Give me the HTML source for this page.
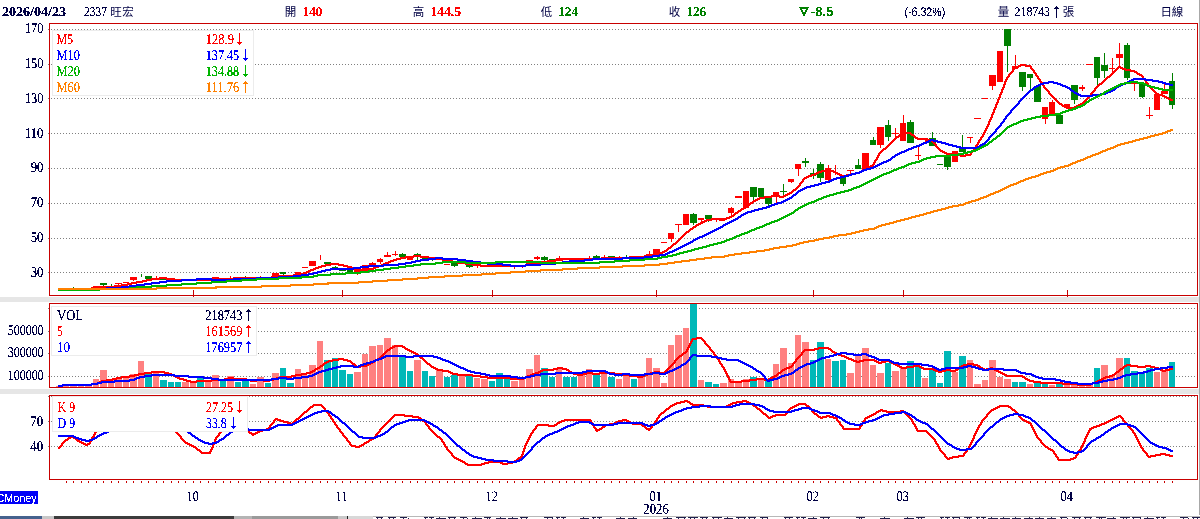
<!DOCTYPE html><html><head><meta charset="utf-8"><style>html,body{margin:0;padding:0;background:#fff;overflow:hidden}body{width:1200px;height:519px;position:relative}</style></head><body><svg width="1200" height="519" viewBox="0 0 1200 519" style="position:absolute;left:0;top:0;font-family:'Liberation Serif',serif">
<defs><filter id="cr" x="0" y="0" width="100%" height="100%" filterUnits="userSpaceOnUse" color-interpolation-filters="sRGB"><feComponentTransfer><feFuncA type="discrete" tableValues="0 0 1 1 1"/></feComponentTransfer></filter><filter id="cw" x="0" y="0" width="100%" height="100%" filterUnits="userSpaceOnUse" color-interpolation-filters="sRGB"><feComponentTransfer><feFuncA type="discrete" tableValues="0 0 1 1"/></feComponentTransfer></filter><filter id="cj" x="0" y="0" width="100%" height="100%" filterUnits="userSpaceOnUse" color-interpolation-filters="sRGB"><feComponentTransfer><feFuncA type="discrete" tableValues="0 1"/></feComponentTransfer></filter></defs>
<rect x="0" y="0" width="1200" height="519" fill="#fff"/>
<rect x="0" y="297" width="1200" height="5" fill="#e6e6e6"/>
<rect x="0" y="389" width="1200" height="5" fill="#e6e6e6"/>
<rect x="1199" y="0" width="1" height="515" fill="#a8a8a8"/>
<line x1="48" x2="1196" y1="29.5" y2="29.5" stroke="#808080" stroke-width="1" stroke-dasharray="1 2" shape-rendering="crispEdges"/>
<line x1="48" x2="1196" y1="64.5" y2="64.5" stroke="#808080" stroke-width="1" stroke-dasharray="1 2" shape-rendering="crispEdges"/>
<line x1="48" x2="1196" y1="98.5" y2="98.5" stroke="#808080" stroke-width="1" stroke-dasharray="1 2" shape-rendering="crispEdges"/>
<line x1="48" x2="1196" y1="133.5" y2="133.5" stroke="#808080" stroke-width="1" stroke-dasharray="1 2" shape-rendering="crispEdges"/>
<line x1="48" x2="1196" y1="168.5" y2="168.5" stroke="#808080" stroke-width="1" stroke-dasharray="1 2" shape-rendering="crispEdges"/>
<line x1="48" x2="1196" y1="203.5" y2="203.5" stroke="#808080" stroke-width="1" stroke-dasharray="1 2" shape-rendering="crispEdges"/>
<line x1="48" x2="1196" y1="238.5" y2="238.5" stroke="#808080" stroke-width="1" stroke-dasharray="1 2" shape-rendering="crispEdges"/>
<line x1="48" x2="1196" y1="272.5" y2="272.5" stroke="#808080" stroke-width="1" stroke-dasharray="1 2" shape-rendering="crispEdges"/>
<line x1="48" x2="1196" y1="308.5" y2="308.5" stroke="#808080" stroke-width="1" stroke-dasharray="1 2" shape-rendering="crispEdges"/>
<line x1="48" x2="1196" y1="331.5" y2="331.5" stroke="#808080" stroke-width="1" stroke-dasharray="1 2" shape-rendering="crispEdges"/>
<line x1="48" x2="1196" y1="353.5" y2="353.5" stroke="#808080" stroke-width="1" stroke-dasharray="1 2" shape-rendering="crispEdges"/>
<line x1="48" x2="1196" y1="376.5" y2="376.5" stroke="#808080" stroke-width="1" stroke-dasharray="1 2" shape-rendering="crispEdges"/>
<line x1="48" x2="1196" y1="396.5" y2="396.5" stroke="#808080" stroke-width="1" stroke-dasharray="1 2" shape-rendering="crispEdges"/>
<line x1="48" x2="1196" y1="421.5" y2="421.5" stroke="#808080" stroke-width="1" stroke-dasharray="1 2" shape-rendering="crispEdges"/>
<line x1="48" x2="1196" y1="446.5" y2="446.5" stroke="#808080" stroke-width="1" stroke-dasharray="1 2" shape-rendering="crispEdges"/>
<g shape-rendering="crispEdges">
<rect x="59.00" y="289.00" width="1.00" height="1.00" fill="#008000"/>
<rect x="66.00" y="288.00" width="1.00" height="1.00" fill="#ff0000"/>
<rect x="63.00" y="288.00" width="6.00" height="1.00" fill="#ff0000"/>
<rect x="73.00" y="287.00" width="1.00" height="2.00" fill="#008000"/>
<rect x="70.00" y="288.00" width="7.00" height="1.00" fill="#008000"/>
<rect x="81.00" y="288.00" width="1.00" height="1.00" fill="#ff0000"/>
<rect x="78.00" y="288.00" width="6.00" height="1.00" fill="#ff0000"/>
<rect x="88.00" y="288.00" width="1.00" height="1.00" fill="#ff0000"/>
<rect x="85.00" y="288.00" width="7.00" height="1.00" fill="#ff0000"/>
<rect x="96.00" y="286.00" width="1.00" height="2.00" fill="#ff0000"/>
<rect x="93.00" y="286.00" width="6.00" height="2.00" fill="#ff0000"/>
<rect x="103.00" y="283.00" width="1.00" height="3.00" fill="#008000"/>
<rect x="100.00" y="283.00" width="7.00" height="2.00" fill="#008000"/>
<rect x="111.00" y="284.00" width="1.00" height="4.00" fill="#008000"/>
<rect x="108.00" y="286.00" width="6.00" height="2.00" fill="#008000"/>
<rect x="118.00" y="283.00" width="1.00" height="2.00" fill="#ff0000"/>
<rect x="115.00" y="283.00" width="7.00" height="1.00" fill="#ff0000"/>
<rect x="123.00" y="282.00" width="6.00" height="1.00" fill="#ff0000"/>
<rect x="133.00" y="277.00" width="1.00" height="4.00" fill="#ff0000"/>
<rect x="130.00" y="277.00" width="7.00" height="3.00" fill="#ff0000"/>
<rect x="141.00" y="274.00" width="1.00" height="3.00" fill="#008000"/>
<rect x="148.00" y="276.00" width="1.00" height="3.00" fill="#008000"/>
<rect x="145.00" y="276.00" width="7.00" height="3.00" fill="#008000"/>
<rect x="156.00" y="276.00" width="1.00" height="3.00" fill="#ff0000"/>
<rect x="153.00" y="278.00" width="6.00" height="1.00" fill="#ff0000"/>
<rect x="163.00" y="278.00" width="1.00" height="2.00" fill="#008000"/>
<rect x="160.00" y="278.00" width="7.00" height="2.00" fill="#008000"/>
<rect x="171.00" y="279.00" width="1.00" height="1.00" fill="#008000"/>
<rect x="168.00" y="279.00" width="6.00" height="1.00" fill="#008000"/>
<rect x="178.00" y="281.00" width="1.00" height="1.00" fill="#008000"/>
<rect x="175.00" y="281.00" width="6.00" height="1.00" fill="#008000"/>
<rect x="185.00" y="280.00" width="1.00" height="1.00" fill="#ff0000"/>
<rect x="182.00" y="280.00" width="7.00" height="1.00" fill="#ff0000"/>
<rect x="193.00" y="279.00" width="1.00" height="2.00" fill="#ff0000"/>
<rect x="190.00" y="279.00" width="6.00" height="2.00" fill="#ff0000"/>
<rect x="200.00" y="278.00" width="1.00" height="2.00" fill="#008000"/>
<rect x="197.00" y="278.00" width="7.00" height="2.00" fill="#008000"/>
<rect x="208.00" y="279.00" width="1.00" height="1.00" fill="#ff0000"/>
<rect x="205.00" y="279.00" width="6.00" height="1.00" fill="#ff0000"/>
<rect x="215.00" y="277.00" width="1.00" height="2.00" fill="#ff0000"/>
<rect x="212.00" y="277.00" width="7.00" height="2.00" fill="#ff0000"/>
<rect x="223.00" y="278.00" width="1.00" height="1.00" fill="#008000"/>
<rect x="220.00" y="278.00" width="6.00" height="1.00" fill="#008000"/>
<rect x="230.00" y="276.00" width="1.00" height="2.00" fill="#ff0000"/>
<rect x="227.00" y="278.00" width="7.00" height="1.00" fill="#ff0000"/>
<rect x="238.00" y="278.00" width="1.00" height="1.00" fill="#ff0000"/>
<rect x="235.00" y="278.00" width="6.00" height="1.00" fill="#ff0000"/>
<rect x="245.00" y="276.00" width="1.00" height="2.00" fill="#008000"/>
<rect x="242.00" y="277.00" width="7.00" height="1.00" fill="#008000"/>
<rect x="253.00" y="277.00" width="1.00" height="1.00" fill="#ff0000"/>
<rect x="250.00" y="277.00" width="6.00" height="1.00" fill="#ff0000"/>
<rect x="260.00" y="276.00" width="1.00" height="2.00" fill="#ff0000"/>
<rect x="257.00" y="277.00" width="7.00" height="1.00" fill="#ff0000"/>
<rect x="268.00" y="277.00" width="1.00" height="1.00" fill="#ff0000"/>
<rect x="265.00" y="277.00" width="6.00" height="1.00" fill="#ff0000"/>
<rect x="275.00" y="273.00" width="1.00" height="4.00" fill="#ff0000"/>
<rect x="272.00" y="273.00" width="7.00" height="4.00" fill="#ff0000"/>
<rect x="283.00" y="272.00" width="1.00" height="4.00" fill="#008000"/>
<rect x="280.00" y="272.00" width="6.00" height="2.00" fill="#008000"/>
<rect x="290.00" y="275.00" width="1.00" height="1.00" fill="#ff0000"/>
<rect x="287.00" y="275.00" width="7.00" height="1.00" fill="#ff0000"/>
<rect x="298.00" y="272.00" width="1.00" height="3.00" fill="#ff0000"/>
<rect x="295.00" y="272.00" width="6.00" height="3.00" fill="#ff0000"/>
<rect x="302.00" y="267.00" width="6.00" height="1.00" fill="#ff0000"/>
<rect x="312.00" y="261.00" width="1.00" height="5.00" fill="#ff0000"/>
<rect x="309.00" y="261.00" width="7.00" height="5.00" fill="#ff0000"/>
<rect x="320.00" y="255.00" width="1.00" height="5.00" fill="#ff0000"/>
<rect x="327.00" y="262.00" width="1.00" height="2.00" fill="#008000"/>
<rect x="324.00" y="262.00" width="7.00" height="2.00" fill="#008000"/>
<rect x="335.00" y="266.00" width="1.00" height="3.00" fill="#008000"/>
<rect x="332.00" y="267.00" width="6.00" height="2.00" fill="#008000"/>
<rect x="342.00" y="268.00" width="1.00" height="3.00" fill="#008000"/>
<rect x="339.00" y="268.00" width="7.00" height="3.00" fill="#008000"/>
<rect x="350.00" y="270.00" width="1.00" height="2.00" fill="#008000"/>
<rect x="347.00" y="270.00" width="6.00" height="2.00" fill="#008000"/>
<rect x="357.00" y="270.00" width="1.00" height="5.00" fill="#ff0000"/>
<rect x="354.00" y="270.00" width="7.00" height="2.00" fill="#ff0000"/>
<rect x="365.00" y="265.00" width="1.00" height="5.00" fill="#ff0000"/>
<rect x="362.00" y="265.00" width="6.00" height="5.00" fill="#ff0000"/>
<rect x="372.00" y="262.00" width="1.00" height="3.00" fill="#ff0000"/>
<rect x="369.00" y="263.00" width="7.00" height="2.00" fill="#ff0000"/>
<rect x="380.00" y="258.00" width="1.00" height="6.00" fill="#ff0000"/>
<rect x="377.00" y="259.00" width="6.00" height="3.00" fill="#ff0000"/>
<rect x="387.00" y="252.00" width="1.00" height="5.00" fill="#ff0000"/>
<rect x="384.00" y="255.00" width="7.00" height="2.00" fill="#ff0000"/>
<rect x="395.00" y="251.00" width="1.00" height="5.00" fill="#ff0000"/>
<rect x="392.00" y="254.00" width="6.00" height="1.00" fill="#ff0000"/>
<rect x="402.00" y="253.00" width="1.00" height="4.00" fill="#008000"/>
<rect x="399.00" y="254.00" width="7.00" height="3.00" fill="#008000"/>
<rect x="410.00" y="258.00" width="1.00" height="2.00" fill="#ff0000"/>
<rect x="407.00" y="258.00" width="6.00" height="2.00" fill="#ff0000"/>
<rect x="417.00" y="253.00" width="1.00" height="7.00" fill="#008000"/>
<rect x="414.00" y="254.00" width="7.00" height="2.00" fill="#008000"/>
<rect x="425.00" y="257.00" width="1.00" height="2.00" fill="#008000"/>
<rect x="422.00" y="257.00" width="6.00" height="2.00" fill="#008000"/>
<rect x="432.00" y="258.00" width="1.00" height="3.00" fill="#008000"/>
<rect x="429.00" y="258.00" width="6.00" height="2.00" fill="#008000"/>
<rect x="439.00" y="258.00" width="1.00" height="2.00" fill="#008000"/>
<rect x="436.00" y="258.00" width="7.00" height="2.00" fill="#008000"/>
<rect x="447.00" y="264.00" width="1.00" height="1.00" fill="#ff0000"/>
<rect x="444.00" y="264.00" width="6.00" height="1.00" fill="#ff0000"/>
<rect x="454.00" y="262.00" width="1.00" height="5.00" fill="#008000"/>
<rect x="451.00" y="262.00" width="7.00" height="4.00" fill="#008000"/>
<rect x="462.00" y="263.00" width="1.00" height="1.00" fill="#ff0000"/>
<rect x="459.00" y="263.00" width="6.00" height="1.00" fill="#ff0000"/>
<rect x="469.00" y="265.00" width="1.00" height="3.00" fill="#008000"/>
<rect x="466.00" y="265.00" width="7.00" height="2.00" fill="#008000"/>
<rect x="477.00" y="265.00" width="1.00" height="3.00" fill="#ff0000"/>
<rect x="474.00" y="265.00" width="6.00" height="1.00" fill="#ff0000"/>
<rect x="484.00" y="265.00" width="1.00" height="1.00" fill="#ff0000"/>
<rect x="481.00" y="265.00" width="7.00" height="1.00" fill="#ff0000"/>
<rect x="492.00" y="265.00" width="1.00" height="1.00" fill="#008000"/>
<rect x="489.00" y="265.00" width="6.00" height="1.00" fill="#008000"/>
<rect x="499.00" y="266.00" width="1.00" height="1.00" fill="#ff0000"/>
<rect x="496.00" y="266.00" width="7.00" height="1.00" fill="#ff0000"/>
<rect x="507.00" y="266.00" width="1.00" height="1.00" fill="#ff0000"/>
<rect x="504.00" y="266.00" width="6.00" height="1.00" fill="#ff0000"/>
<rect x="514.00" y="266.00" width="1.00" height="3.00" fill="#ff0000"/>
<rect x="511.00" y="266.00" width="7.00" height="1.00" fill="#ff0000"/>
<rect x="522.00" y="265.00" width="1.00" height="3.00" fill="#ff0000"/>
<rect x="519.00" y="265.00" width="6.00" height="1.00" fill="#ff0000"/>
<rect x="529.00" y="260.00" width="1.00" height="4.00" fill="#ff0000"/>
<rect x="526.00" y="260.00" width="7.00" height="4.00" fill="#ff0000"/>
<rect x="537.00" y="256.00" width="1.00" height="4.00" fill="#ff0000"/>
<rect x="534.00" y="257.00" width="6.00" height="2.00" fill="#ff0000"/>
<rect x="544.00" y="256.00" width="1.00" height="5.00" fill="#008000"/>
<rect x="541.00" y="257.00" width="7.00" height="3.00" fill="#008000"/>
<rect x="552.00" y="259.00" width="1.00" height="2.00" fill="#008000"/>
<rect x="549.00" y="259.00" width="6.00" height="2.00" fill="#008000"/>
<rect x="559.00" y="256.00" width="1.00" height="4.00" fill="#ff0000"/>
<rect x="556.00" y="258.00" width="6.00" height="2.00" fill="#ff0000"/>
<rect x="566.00" y="258.00" width="1.00" height="2.00" fill="#ff0000"/>
<rect x="563.00" y="258.00" width="7.00" height="2.00" fill="#ff0000"/>
<rect x="574.00" y="259.00" width="1.00" height="2.00" fill="#ff0000"/>
<rect x="571.00" y="259.00" width="6.00" height="2.00" fill="#ff0000"/>
<rect x="581.00" y="259.00" width="1.00" height="1.00" fill="#ff0000"/>
<rect x="578.00" y="259.00" width="7.00" height="1.00" fill="#ff0000"/>
<rect x="589.00" y="256.00" width="1.00" height="4.00" fill="#ff0000"/>
<rect x="586.00" y="258.00" width="6.00" height="2.00" fill="#ff0000"/>
<rect x="596.00" y="255.00" width="1.00" height="3.00" fill="#008000"/>
<rect x="593.00" y="256.00" width="7.00" height="2.00" fill="#008000"/>
<rect x="604.00" y="255.00" width="1.00" height="3.00" fill="#ff0000"/>
<rect x="601.00" y="257.00" width="6.00" height="1.00" fill="#ff0000"/>
<rect x="611.00" y="256.00" width="1.00" height="1.00" fill="#008000"/>
<rect x="608.00" y="256.00" width="7.00" height="1.00" fill="#008000"/>
<rect x="619.00" y="256.00" width="1.00" height="2.00" fill="#ff0000"/>
<rect x="616.00" y="257.00" width="6.00" height="1.00" fill="#ff0000"/>
<rect x="626.00" y="255.00" width="1.00" height="2.00" fill="#008000"/>
<rect x="634.00" y="256.00" width="1.00" height="1.00" fill="#ff0000"/>
<rect x="631.00" y="256.00" width="6.00" height="1.00" fill="#ff0000"/>
<rect x="641.00" y="256.00" width="1.00" height="1.00" fill="#ff0000"/>
<rect x="638.00" y="256.00" width="7.00" height="1.00" fill="#ff0000"/>
<rect x="649.00" y="251.00" width="1.00" height="5.00" fill="#ff0000"/>
<rect x="646.00" y="254.00" width="6.00" height="2.00" fill="#ff0000"/>
<rect x="656.00" y="249.00" width="1.00" height="6.00" fill="#ff0000"/>
<rect x="653.00" y="249.00" width="7.00" height="6.00" fill="#ff0000"/>
<rect x="661.00" y="242.00" width="6.00" height="1.00" fill="#ff0000"/>
<rect x="671.00" y="233.00" width="1.00" height="9.00" fill="#ff0000"/>
<rect x="668.00" y="233.00" width="6.00" height="6.00" fill="#ff0000"/>
<rect x="678.00" y="224.00" width="1.00" height="8.00" fill="#ff0000"/>
<rect x="675.00" y="224.00" width="7.00" height="1.00" fill="#ff0000"/>
<rect x="686.00" y="214.00" width="1.00" height="11.00" fill="#ff0000"/>
<rect x="683.00" y="214.00" width="6.00" height="11.00" fill="#ff0000"/>
<rect x="693.00" y="213.00" width="1.00" height="12.00" fill="#008000"/>
<rect x="690.00" y="214.00" width="7.00" height="9.00" fill="#008000"/>
<rect x="701.00" y="218.00" width="1.00" height="5.00" fill="#ff0000"/>
<rect x="698.00" y="218.00" width="6.00" height="2.00" fill="#ff0000"/>
<rect x="708.00" y="215.00" width="1.00" height="7.00" fill="#008000"/>
<rect x="705.00" y="215.00" width="7.00" height="4.00" fill="#008000"/>
<rect x="716.00" y="219.00" width="1.00" height="3.00" fill="#ff0000"/>
<rect x="713.00" y="219.00" width="6.00" height="1.00" fill="#ff0000"/>
<rect x="723.00" y="218.00" width="1.00" height="2.00" fill="#ff0000"/>
<rect x="720.00" y="218.00" width="7.00" height="2.00" fill="#ff0000"/>
<rect x="731.00" y="207.00" width="1.00" height="8.00" fill="#ff0000"/>
<rect x="728.00" y="208.00" width="6.00" height="5.00" fill="#ff0000"/>
<rect x="738.00" y="196.00" width="1.00" height="2.00" fill="#ff0000"/>
<rect x="735.00" y="196.00" width="7.00" height="2.00" fill="#ff0000"/>
<rect x="746.00" y="191.00" width="1.00" height="17.00" fill="#ff0000"/>
<rect x="743.00" y="191.00" width="6.00" height="17.00" fill="#ff0000"/>
<rect x="753.00" y="187.00" width="1.00" height="15.00" fill="#008000"/>
<rect x="750.00" y="187.00" width="7.00" height="10.00" fill="#008000"/>
<rect x="761.00" y="188.00" width="1.00" height="9.00" fill="#008000"/>
<rect x="758.00" y="188.00" width="6.00" height="9.00" fill="#008000"/>
<rect x="768.00" y="196.00" width="1.00" height="11.00" fill="#008000"/>
<rect x="765.00" y="196.00" width="7.00" height="8.00" fill="#008000"/>
<rect x="776.00" y="192.00" width="1.00" height="11.00" fill="#ff0000"/>
<rect x="773.00" y="192.00" width="6.00" height="5.00" fill="#ff0000"/>
<rect x="783.00" y="184.00" width="1.00" height="14.00" fill="#008000"/>
<rect x="780.00" y="191.00" width="7.00" height="1.00" fill="#008000"/>
<rect x="791.00" y="179.00" width="1.00" height="4.00" fill="#ff0000"/>
<rect x="788.00" y="179.00" width="6.00" height="3.00" fill="#ff0000"/>
<rect x="798.00" y="164.00" width="1.00" height="12.00" fill="#ff0000"/>
<rect x="795.00" y="164.00" width="6.00" height="5.00" fill="#ff0000"/>
<rect x="805.00" y="158.00" width="1.00" height="9.00" fill="#008000"/>
<rect x="802.00" y="161.00" width="7.00" height="2.00" fill="#008000"/>
<rect x="813.00" y="169.00" width="1.00" height="10.00" fill="#008000"/>
<rect x="810.00" y="173.00" width="6.00" height="3.00" fill="#008000"/>
<rect x="820.00" y="162.00" width="1.00" height="20.00" fill="#008000"/>
<rect x="817.00" y="164.00" width="7.00" height="14.00" fill="#008000"/>
<rect x="828.00" y="165.00" width="1.00" height="16.00" fill="#ff0000"/>
<rect x="825.00" y="168.00" width="6.00" height="12.00" fill="#ff0000"/>
<rect x="835.00" y="165.00" width="1.00" height="10.00" fill="#ff0000"/>
<rect x="843.00" y="175.00" width="1.00" height="11.00" fill="#008000"/>
<rect x="840.00" y="175.00" width="6.00" height="9.00" fill="#008000"/>
<rect x="850.00" y="170.00" width="1.00" height="6.00" fill="#ff0000"/>
<rect x="847.00" y="170.00" width="7.00" height="1.00" fill="#ff0000"/>
<rect x="858.00" y="159.00" width="1.00" height="10.00" fill="#008000"/>
<rect x="855.00" y="165.00" width="6.00" height="4.00" fill="#008000"/>
<rect x="865.00" y="153.00" width="1.00" height="17.00" fill="#ff0000"/>
<rect x="862.00" y="153.00" width="7.00" height="17.00" fill="#ff0000"/>
<rect x="873.00" y="137.00" width="1.00" height="8.00" fill="#008000"/>
<rect x="870.00" y="140.00" width="6.00" height="5.00" fill="#008000"/>
<rect x="880.00" y="127.00" width="1.00" height="21.00" fill="#ff0000"/>
<rect x="877.00" y="127.00" width="7.00" height="18.00" fill="#ff0000"/>
<rect x="888.00" y="120.00" width="1.00" height="21.00" fill="#008000"/>
<rect x="885.00" y="125.00" width="6.00" height="12.00" fill="#008000"/>
<rect x="895.00" y="128.00" width="1.00" height="10.00" fill="#ff0000"/>
<rect x="892.00" y="133.00" width="7.00" height="1.00" fill="#ff0000"/>
<rect x="903.00" y="115.00" width="1.00" height="26.00" fill="#ff0000"/>
<rect x="900.00" y="123.00" width="6.00" height="18.00" fill="#ff0000"/>
<rect x="910.00" y="120.00" width="1.00" height="23.00" fill="#008000"/>
<rect x="907.00" y="122.00" width="7.00" height="21.00" fill="#008000"/>
<rect x="918.00" y="147.00" width="1.00" height="13.00" fill="#ff0000"/>
<rect x="915.00" y="155.00" width="6.00" height="1.00" fill="#ff0000"/>
<rect x="925.00" y="138.00" width="1.00" height="4.00" fill="#ff0000"/>
<rect x="922.00" y="138.00" width="6.00" height="1.00" fill="#ff0000"/>
<rect x="932.00" y="132.00" width="1.00" height="14.00" fill="#008000"/>
<rect x="929.00" y="138.00" width="7.00" height="8.00" fill="#008000"/>
<rect x="937.00" y="164.00" width="6.00" height="1.00" fill="#008000"/>
<rect x="947.00" y="155.00" width="1.00" height="15.00" fill="#008000"/>
<rect x="944.00" y="155.00" width="7.00" height="12.00" fill="#008000"/>
<rect x="955.00" y="151.00" width="1.00" height="11.00" fill="#ff0000"/>
<rect x="952.00" y="151.00" width="6.00" height="11.00" fill="#ff0000"/>
<rect x="962.00" y="135.00" width="1.00" height="17.00" fill="#008000"/>
<rect x="959.00" y="148.00" width="7.00" height="4.00" fill="#008000"/>
<rect x="970.00" y="137.00" width="1.00" height="6.00" fill="#ff0000"/>
<rect x="967.00" y="137.00" width="6.00" height="1.00" fill="#ff0000"/>
<rect x="974.00" y="118.00" width="7.00" height="1.00" fill="#ff0000"/>
<rect x="982.00" y="98.00" width="6.00" height="1.00" fill="#ff0000"/>
<rect x="992.00" y="75.00" width="1.00" height="15.00" fill="#ff0000"/>
<rect x="989.00" y="75.00" width="7.00" height="11.00" fill="#ff0000"/>
<rect x="1000.00" y="51.00" width="1.00" height="31.00" fill="#ff0000"/>
<rect x="997.00" y="51.00" width="6.00" height="31.00" fill="#ff0000"/>
<rect x="1007.00" y="29.00" width="1.00" height="43.00" fill="#008000"/>
<rect x="1004.00" y="29.00" width="7.00" height="17.00" fill="#008000"/>
<rect x="1015.00" y="55.00" width="1.00" height="14.00" fill="#ff0000"/>
<rect x="1012.00" y="66.00" width="6.00" height="3.00" fill="#ff0000"/>
<rect x="1022.00" y="72.00" width="1.00" height="19.00" fill="#008000"/>
<rect x="1019.00" y="72.00" width="7.00" height="15.00" fill="#008000"/>
<rect x="1030.00" y="74.00" width="1.00" height="16.00" fill="#008000"/>
<rect x="1027.00" y="74.00" width="6.00" height="4.00" fill="#008000"/>
<rect x="1037.00" y="86.00" width="1.00" height="16.00" fill="#008000"/>
<rect x="1034.00" y="86.00" width="7.00" height="16.00" fill="#008000"/>
<rect x="1045.00" y="107.00" width="1.00" height="17.00" fill="#ff0000"/>
<rect x="1042.00" y="107.00" width="6.00" height="12.00" fill="#ff0000"/>
<rect x="1052.00" y="100.00" width="1.00" height="15.00" fill="#ff0000"/>
<rect x="1049.00" y="102.00" width="6.00" height="13.00" fill="#ff0000"/>
<rect x="1059.00" y="115.00" width="1.00" height="9.00" fill="#008000"/>
<rect x="1056.00" y="115.00" width="7.00" height="9.00" fill="#008000"/>
<rect x="1067.00" y="104.00" width="1.00" height="3.00" fill="#ff0000"/>
<rect x="1064.00" y="104.00" width="6.00" height="3.00" fill="#ff0000"/>
<rect x="1074.00" y="85.00" width="1.00" height="19.00" fill="#008000"/>
<rect x="1071.00" y="85.00" width="7.00" height="15.00" fill="#008000"/>
<rect x="1082.00" y="85.00" width="1.00" height="6.00" fill="#ff0000"/>
<rect x="1079.00" y="87.00" width="6.00" height="2.00" fill="#ff0000"/>
<rect x="1086.00" y="64.00" width="7.00" height="1.00" fill="#ff0000"/>
<rect x="1097.00" y="57.00" width="1.00" height="29.00" fill="#008000"/>
<rect x="1094.00" y="57.00" width="6.00" height="21.00" fill="#008000"/>
<rect x="1104.00" y="53.00" width="1.00" height="25.00" fill="#008000"/>
<rect x="1101.00" y="65.00" width="7.00" height="6.00" fill="#008000"/>
<rect x="1112.00" y="58.00" width="1.00" height="14.00" fill="#ff0000"/>
<rect x="1109.00" y="68.00" width="6.00" height="1.00" fill="#ff0000"/>
<rect x="1119.00" y="43.00" width="1.00" height="25.00" fill="#ff0000"/>
<rect x="1116.00" y="54.00" width="7.00" height="4.00" fill="#ff0000"/>
<rect x="1127.00" y="43.00" width="1.00" height="37.00" fill="#008000"/>
<rect x="1124.00" y="45.00" width="6.00" height="33.00" fill="#008000"/>
<rect x="1134.00" y="83.00" width="1.00" height="8.00" fill="#ff0000"/>
<rect x="1131.00" y="83.00" width="7.00" height="1.00" fill="#ff0000"/>
<rect x="1142.00" y="83.00" width="1.00" height="15.00" fill="#008000"/>
<rect x="1139.00" y="83.00" width="6.00" height="14.00" fill="#008000"/>
<rect x="1149.00" y="107.00" width="1.00" height="12.00" fill="#ff0000"/>
<rect x="1146.00" y="115.00" width="7.00" height="1.00" fill="#ff0000"/>
<rect x="1157.00" y="94.00" width="1.00" height="16.00" fill="#ff0000"/>
<rect x="1154.00" y="94.00" width="6.00" height="16.00" fill="#ff0000"/>
<rect x="1164.00" y="83.00" width="1.00" height="11.00" fill="#ff0000"/>
<rect x="1161.00" y="91.00" width="7.00" height="3.00" fill="#ff0000"/>
<rect x="1172.00" y="73.00" width="1.00" height="36.00" fill="#008000"/>
<rect x="1169.00" y="81.00" width="6.00" height="24.00" fill="#008000"/>
</g>
<path d="M1020 64h6v1h-6zM1018 65h13v1h-13zM1016 66h5v1h-5zM1025 66h7v1h-7zM1118 66h3v1h-3zM1014 67h5v1h-5zM1030 67h2v1h-2zM1117 67h6v1h-6zM1013 68h4v1h-4zM1030 68h3v1h-3zM1116 68h3v1h-3zM1120 68h6v1h-6zM1012 69h3v1h-3zM1031 69h3v1h-3zM1115 69h3v1h-3zM1122 69h9v1h-9zM1012 70h2v1h-2zM1032 70h3v1h-3zM1114 70h3v1h-3zM1125 70h10v1h-10zM1011 71h3v1h-3zM1033 71h2v1h-2zM1113 71h3v1h-3zM1130 71h7v1h-7zM1010 72h3v1h-3zM1033 72h3v1h-3zM1112 72h3v1h-3zM1134 72h4v1h-4zM1009 73h3v1h-3zM1034 73h3v1h-3zM1111 73h3v1h-3zM1136 73h4v1h-4zM1008 74h3v1h-3zM1035 74h2v1h-2zM1110 74h3v1h-3zM1137 74h5v1h-5zM1008 75h2v1h-2zM1035 75h3v1h-3zM1109 75h3v1h-3zM1139 75h4v1h-4zM1007 76h3v1h-3zM1036 76h3v1h-3zM1107 76h4v1h-4zM1141 76h3v1h-3zM1006 77h3v1h-3zM1037 77h2v1h-2zM1106 77h4v1h-4zM1142 77h2v1h-2zM1006 78h2v1h-2zM1037 78h3v1h-3zM1105 78h3v1h-3zM1142 78h3v1h-3zM1005 79h3v1h-3zM1038 79h3v1h-3zM1104 79h3v1h-3zM1143 79h3v1h-3zM1005 80h2v1h-2zM1039 80h2v1h-2zM1103 80h3v1h-3zM1144 80h3v1h-3zM1004 81h3v1h-3zM1039 81h3v1h-3zM1102 81h3v1h-3zM1145 81h2v1h-2zM1004 82h2v1h-2zM1040 82h3v1h-3zM1101 82h3v1h-3zM1145 82h3v1h-3zM1004 83h2v1h-2zM1041 83h2v1h-2zM1099 83h4v1h-4zM1146 83h3v1h-3zM1003 84h3v1h-3zM1041 84h3v1h-3zM1098 84h4v1h-4zM1147 84h2v1h-2zM1003 85h2v1h-2zM1042 85h3v1h-3zM1097 85h3v1h-3zM1147 85h3v1h-3zM1003 86h2v1h-2zM1043 86h2v1h-2zM1096 86h3v1h-3zM1148 86h3v1h-3zM1002 87h3v1h-3zM1043 87h3v1h-3zM1095 87h3v1h-3zM1149 87h3v1h-3zM1002 88h2v1h-2zM1044 88h3v1h-3zM1094 88h3v1h-3zM1150 88h3v1h-3zM1001 89h3v1h-3zM1045 89h3v1h-3zM1094 89h2v1h-2zM1151 89h3v1h-3zM1001 90h2v1h-2zM1046 90h3v1h-3zM1093 90h3v1h-3zM1152 90h3v1h-3zM1001 91h2v1h-2zM1047 91h3v1h-3zM1092 91h3v1h-3zM1153 91h3v1h-3zM1000 92h3v1h-3zM1048 92h2v1h-2zM1091 92h3v1h-3zM1154 92h3v1h-3zM1000 93h2v1h-2zM1048 93h3v1h-3zM1090 93h3v1h-3zM1155 93h4v1h-4zM999 94h3v1h-3zM1049 94h3v1h-3zM1090 94h2v1h-2zM1156 94h7v1h-7zM999 95h2v1h-2zM1050 95h3v1h-3zM1089 95h3v1h-3zM1158 95h7v1h-7zM999 96h2v1h-2zM1051 96h3v1h-3zM1088 96h3v1h-3zM1162 96h5v1h-5zM998 97h3v1h-3zM1052 97h3v1h-3zM1087 97h3v1h-3zM1164 97h5v1h-5zM998 98h2v1h-2zM1053 98h3v1h-3zM1086 98h3v1h-3zM1166 98h5v1h-5zM997 99h3v1h-3zM1054 99h3v1h-3zM1085 99h3v1h-3zM1168 99h5v1h-5zM997 100h2v1h-2zM1055 100h3v1h-3zM1084 100h3v1h-3zM1170 100h3v1h-3zM997 101h2v1h-2zM1056 101h3v1h-3zM1083 101h3v1h-3zM996 102h3v1h-3zM1057 102h3v1h-3zM1082 102h3v1h-3zM996 103h2v1h-2zM1058 103h4v1h-4zM1080 103h4v1h-4zM995 104h3v1h-3zM1059 104h4v1h-4zM1078 104h5v1h-5zM995 105h2v1h-2zM1061 105h4v1h-4zM1076 105h5v1h-5zM995 106h2v1h-2zM1062 106h5v1h-5zM1074 106h5v1h-5zM994 107h3v1h-3zM1064 107h13v1h-13zM994 108h2v1h-2zM1066 108h9v1h-9zM993 109h3v1h-3zM993 110h2v1h-2zM993 111h2v1h-2zM992 112h3v1h-3zM992 113h2v1h-2zM991 114h3v1h-3zM991 115h2v1h-2zM991 116h2v1h-2zM990 117h3v1h-3zM990 118h2v1h-2zM989 119h3v1h-3zM989 120h2v1h-2zM988 121h3v1h-3zM988 122h2v1h-2zM988 123h2v1h-2zM987 124h3v1h-3zM987 125h2v1h-2zM986 126h3v1h-3zM986 127h2v1h-2zM985 128h3v1h-3zM985 129h2v1h-2zM984 130h3v1h-3zM984 131h2v1h-2zM902 132h9v1h-9zM983 132h3v1h-3zM900 133h12v1h-12zM983 133h2v1h-2zM899 134h4v1h-4zM910 134h4v1h-4zM982 134h3v1h-3zM898 135h3v1h-3zM911 135h4v1h-4zM982 135h2v1h-2zM896 136h4v1h-4zM913 136h3v1h-3zM981 136h3v1h-3zM895 137h4v1h-4zM914 137h4v1h-4zM980 137h3v1h-3zM894 138h3v1h-3zM915 138h12v1h-12zM980 138h2v1h-2zM893 139h3v1h-3zM917 139h14v1h-14zM979 139h3v1h-3zM892 140h3v1h-3zM926 140h7v1h-7zM978 140h3v1h-3zM891 141h3v1h-3zM930 141h4v1h-4zM978 141h2v1h-2zM890 142h3v1h-3zM932 142h3v1h-3zM977 142h3v1h-3zM889 143h3v1h-3zM933 143h3v1h-3zM977 143h2v1h-2zM888 144h3v1h-3zM934 144h3v1h-3zM976 144h3v1h-3zM887 145h3v1h-3zM935 145h2v1h-2zM975 145h3v1h-3zM886 146h3v1h-3zM935 146h3v1h-3zM975 146h2v1h-2zM885 147h3v1h-3zM936 147h3v1h-3zM974 147h3v1h-3zM883 148h4v1h-4zM937 148h3v1h-3zM973 148h3v1h-3zM882 149h4v1h-4zM938 149h3v1h-3zM973 149h2v1h-2zM881 150h3v1h-3zM939 150h4v1h-4zM972 150h3v1h-3zM880 151h3v1h-3zM940 151h5v1h-5zM971 151h3v1h-3zM879 152h3v1h-3zM942 152h5v1h-5zM970 152h3v1h-3zM878 153h3v1h-3zM944 153h13v1h-13zM970 153h2v1h-2zM878 154h2v1h-2zM946 154h15v1h-15zM965 154h7v1h-7zM877 155h3v1h-3zM956 155h15v1h-15zM877 156h2v1h-2zM960 156h6v1h-6zM876 157h3v1h-3zM876 158h2v1h-2zM875 159h3v1h-3zM874 160h3v1h-3zM874 161h2v1h-2zM873 162h3v1h-3zM873 163h2v1h-2zM872 164h3v1h-3zM870 165h4v1h-4zM868 166h5v1h-5zM867 167h4v1h-4zM865 168h4v1h-4zM825 169h5v1h-5zM863 169h5v1h-5zM821 170h13v1h-13zM861 170h5v1h-5zM818 171h8v1h-8zM829 171h7v1h-7zM859 171h5v1h-5zM816 172h6v1h-6zM833 172h5v1h-5zM855 172h7v1h-7zM814 173h5v1h-5zM835 173h5v1h-5zM851 173h9v1h-9zM811 174h6v1h-6zM837 174h5v1h-5zM846 174h10v1h-10zM808 175h7v1h-7zM839 175h13v1h-13zM806 176h6v1h-6zM841 176h6v1h-6zM804 177h5v1h-5zM803 178h4v1h-4zM802 179h3v1h-3zM802 180h2v1h-2zM801 181h3v1h-3zM800 182h3v1h-3zM799 183h3v1h-3zM799 184h2v1h-2zM798 185h3v1h-3zM797 186h3v1h-3zM796 187h3v1h-3zM795 188h3v1h-3zM793 189h4v1h-4zM792 190h4v1h-4zM791 191h3v1h-3zM789 192h4v1h-4zM787 193h5v1h-5zM785 194h5v1h-5zM771 195h9v1h-9zM783 195h5v1h-5zM764 196h22v1h-22zM759 197h13v1h-13zM779 197h5v1h-5zM757 198h8v1h-8zM755 199h5v1h-5zM753 200h5v1h-5zM752 201h4v1h-4zM750 202h4v1h-4zM749 203h4v1h-4zM748 204h3v1h-3zM746 205h4v1h-4zM745 206h4v1h-4zM743 207h4v1h-4zM741 208h5v1h-5zM740 209h4v1h-4zM738 210h4v1h-4zM737 211h4v1h-4zM735 212h4v1h-4zM734 213h4v1h-4zM733 214h3v1h-3zM731 215h4v1h-4zM729 216h5v1h-5zM726 217h6v1h-6zM711 218h9v1h-9zM724 218h6v1h-6zM706 219h21v1h-21zM704 220h8v1h-8zM719 220h6v1h-6zM702 221h5v1h-5zM700 222h5v1h-5zM698 223h5v1h-5zM696 224h5v1h-5zM695 225h4v1h-4zM693 226h4v1h-4zM692 227h4v1h-4zM690 228h4v1h-4zM689 229h4v1h-4zM688 230h3v1h-3zM686 231h4v1h-4zM685 232h4v1h-4zM684 233h3v1h-3zM683 234h3v1h-3zM682 235h3v1h-3zM681 236h3v1h-3zM680 237h3v1h-3zM679 238h3v1h-3zM678 239h3v1h-3zM677 240h3v1h-3zM676 241h3v1h-3zM675 242h3v1h-3zM673 243h4v1h-4zM672 244h4v1h-4zM671 245h3v1h-3zM670 246h3v1h-3zM668 247h4v1h-4zM667 248h4v1h-4zM666 249h3v1h-3zM664 250h4v1h-4zM662 251h5v1h-5zM659 252h6v1h-6zM657 253h6v1h-6zM652 254h8v1h-8zM413 255h8v1h-8zM644 255h14v1h-14zM405 256h24v1h-24zM629 256h24v1h-24zM400 257h14v1h-14zM420 257h16v1h-16zM607 257h38v1h-38zM396 258h10v1h-10zM428 258h15v1h-15zM562 258h68v1h-68zM393 259h8v1h-8zM435 259h14v1h-14zM555 259h53v1h-53zM390 260h7v1h-7zM442 260h11v1h-11zM547 260h16v1h-16zM388 261h6v1h-6zM448 261h10v1h-10zM540 261h16v1h-16zM385 262h6v1h-6zM452 262h14v1h-14zM534 262h14v1h-14zM330 263h9v1h-9zM383 263h6v1h-6zM457 263h16v1h-16zM530 263h11v1h-11zM325 264h19v1h-19zM381 264h5v1h-5zM465 264h16v1h-16zM525 264h10v1h-10zM321 265h10v1h-10zM338 265h10v1h-10zM378 265h6v1h-6zM472 265h59v1h-59zM318 266h8v1h-8zM343 266h9v1h-9zM375 266h7v1h-7zM480 266h46v1h-46zM315 267h7v1h-7zM347 267h7v1h-7zM373 267h6v1h-6zM313 268h6v1h-6zM351 268h5v1h-5zM368 268h8v1h-8zM310 269h6v1h-6zM353 269h21v1h-21zM308 270h6v1h-6zM355 270h14v1h-14zM306 271h5v1h-5zM303 272h6v1h-6zM299 273h8v1h-8zM293 274h11v1h-11zM278 275h22v1h-22zM271 276h23v1h-23zM159 277h8v1h-8zM233 277h46v1h-46zM151 278h24v1h-24zM211 278h61v1h-61zM146 279h14v1h-14zM166 279h68v1h-68zM142 280h10v1h-10zM174 280h38v1h-38zM136 281h11v1h-11zM131 282h12v1h-12zM127 283h10v1h-10zM121 284h11v1h-11zM114 285h14v1h-14zM99 286h23v1h-23zM91 287h24v1h-24zM69 288h31v1h-31zM58 289h34v1h-34zM58 290h12v1h-12z" fill="#ff0000" shape-rendering="crispEdges"/>
<path d="M1133 78h13v1h-13zM1131 79h22v1h-22zM1129 80h5v1h-5zM1145 80h14v1h-14zM1048 81h6v1h-6zM1127 81h5v1h-5zM1152 81h11v1h-11zM1043 82h15v1h-15zM1125 82h5v1h-5zM1158 82h8v1h-8zM1040 83h9v1h-9zM1053 83h8v1h-8zM1122 83h6v1h-6zM1162 83h8v1h-8zM1038 84h6v1h-6zM1057 84h6v1h-6zM1120 84h6v1h-6zM1165 84h8v1h-8zM1036 85h5v1h-5zM1060 85h6v1h-6zM1118 85h5v1h-5zM1169 85h4v1h-4zM1034 86h5v1h-5zM1062 86h6v1h-6zM1116 86h5v1h-5zM1033 87h4v1h-4zM1065 87h5v1h-5zM1115 87h4v1h-4zM1032 88h3v1h-3zM1067 88h4v1h-4zM1114 88h3v1h-3zM1030 89h4v1h-4zM1069 89h3v1h-3zM1112 89h4v1h-4zM1029 90h4v1h-4zM1070 90h4v1h-4zM1110 90h5v1h-5zM1028 91h3v1h-3zM1071 91h4v1h-4zM1107 91h6v1h-6zM1027 92h3v1h-3zM1073 92h4v1h-4zM1105 92h6v1h-6zM1026 93h3v1h-3zM1074 93h5v1h-5zM1100 93h8v1h-8zM1025 94h3v1h-3zM1076 94h5v1h-5zM1092 94h14v1h-14zM1024 95h3v1h-3zM1078 95h23v1h-23zM1023 96h3v1h-3zM1080 96h13v1h-13zM1022 97h3v1h-3zM1021 98h3v1h-3zM1020 99h3v1h-3zM1019 100h3v1h-3zM1018 101h3v1h-3zM1018 102h2v1h-2zM1017 103h3v1h-3zM1016 104h3v1h-3zM1015 105h3v1h-3zM1014 106h3v1h-3zM1013 107h3v1h-3zM1012 108h3v1h-3zM1011 109h3v1h-3zM1010 110h3v1h-3zM1010 111h2v1h-2zM1009 112h3v1h-3zM1008 113h3v1h-3zM1007 114h3v1h-3zM1006 115h3v1h-3zM1005 116h3v1h-3zM1005 117h2v1h-2zM1004 118h3v1h-3zM1003 119h3v1h-3zM1003 120h2v1h-2zM1002 121h3v1h-3zM1001 122h3v1h-3zM1000 123h3v1h-3zM1000 124h2v1h-2zM999 125h3v1h-3zM998 126h3v1h-3zM997 127h3v1h-3zM996 128h3v1h-3zM995 129h3v1h-3zM995 130h2v1h-2zM994 131h3v1h-3zM993 132h3v1h-3zM992 133h3v1h-3zM991 134h3v1h-3zM990 135h3v1h-3zM989 136h3v1h-3zM988 137h3v1h-3zM988 138h2v1h-2zM930 139h4v1h-4zM987 139h3v1h-3zM928 140h10v1h-10zM986 140h3v1h-3zM926 141h5v1h-5zM933 141h9v1h-9zM985 141h3v1h-3zM923 142h6v1h-6zM937 142h9v1h-9zM984 142h3v1h-3zM921 143h6v1h-6zM941 143h8v1h-8zM982 143h4v1h-4zM919 144h5v1h-5zM945 144h8v1h-8zM980 144h5v1h-5zM916 145h6v1h-6zM948 145h9v1h-9zM979 145h4v1h-4zM913 146h7v1h-7zM952 146h9v1h-9zM977 146h4v1h-4zM911 147h6v1h-6zM956 147h24v1h-24zM908 148h6v1h-6zM960 148h18v1h-18zM906 149h6v1h-6zM904 150h5v1h-5zM901 151h6v1h-6zM899 152h6v1h-6zM897 153h5v1h-5zM895 154h5v1h-5zM894 155h4v1h-4zM892 156h4v1h-4zM891 157h4v1h-4zM890 158h3v1h-3zM888 159h4v1h-4zM886 160h5v1h-5zM883 161h6v1h-6zM881 162h6v1h-6zM879 163h5v1h-5zM877 164h5v1h-5zM875 165h5v1h-5zM873 166h5v1h-5zM870 167h6v1h-6zM866 168h8v1h-8zM863 169h8v1h-8zM861 170h6v1h-6zM859 171h5v1h-5zM855 172h7v1h-7zM851 173h9v1h-9zM848 174h8v1h-8zM844 175h8v1h-8zM840 176h9v1h-9zM836 177h9v1h-9zM833 178h8v1h-8zM831 179h6v1h-6zM829 180h5v1h-5zM825 181h7v1h-7zM821 182h9v1h-9zM818 183h8v1h-8zM814 184h8v1h-8zM810 185h9v1h-9zM806 186h9v1h-9zM804 187h7v1h-7zM802 188h5v1h-5zM800 189h5v1h-5zM798 190h5v1h-5zM797 191h4v1h-4zM796 192h3v1h-3zM795 193h3v1h-3zM793 194h4v1h-4zM792 195h4v1h-4zM791 196h3v1h-3zM789 197h4v1h-4zM787 198h5v1h-5zM785 199h5v1h-5zM783 200h5v1h-5zM781 201h5v1h-5zM777 202h7v1h-7zM774 203h8v1h-8zM771 204h7v1h-7zM769 205h6v1h-6zM766 206h6v1h-6zM762 207h8v1h-8zM758 208h9v1h-9zM754 209h9v1h-9zM751 210h8v1h-8zM747 211h8v1h-8zM745 212h7v1h-7zM743 213h5v1h-5zM741 214h5v1h-5zM740 215h4v1h-4zM738 216h4v1h-4zM737 217h4v1h-4zM735 218h4v1h-4zM733 219h5v1h-5zM731 220h5v1h-5zM729 221h5v1h-5zM727 222h5v1h-5zM725 223h5v1h-5zM723 224h5v1h-5zM722 225h4v1h-4zM720 226h4v1h-4zM718 227h5v1h-5zM716 228h5v1h-5zM714 229h5v1h-5zM712 230h5v1h-5zM710 231h5v1h-5zM708 232h5v1h-5zM706 233h5v1h-5zM704 234h5v1h-5zM702 235h5v1h-5zM699 236h6v1h-6zM697 237h6v1h-6zM695 238h5v1h-5zM693 239h5v1h-5zM692 240h4v1h-4zM690 241h4v1h-4zM688 242h5v1h-5zM686 243h5v1h-5zM684 244h5v1h-5zM682 245h5v1h-5zM680 246h5v1h-5zM678 247h5v1h-5zM676 248h5v1h-5zM674 249h5v1h-5zM672 250h5v1h-5zM669 251h6v1h-6zM667 252h6v1h-6zM665 253h5v1h-5zM659 254h9v1h-9zM652 255h14v1h-14zM644 256h16v1h-16zM435 257h8v1h-8zM622 257h31v1h-31zM428 258h30v1h-30zM592 258h53v1h-53zM420 259h16v1h-16zM442 259h24v1h-24zM584 259h39v1h-39zM415 260h14v1h-14zM457 260h16v1h-16zM569 260h24v1h-24zM411 261h10v1h-10zM465 261h16v1h-16zM562 261h23v1h-23zM405 262h11v1h-11zM472 262h16v1h-16zM555 262h15v1h-15zM398 263h14v1h-14zM480 263h23v1h-23zM540 263h23v1h-23zM383 264h23v1h-23zM487 264h24v1h-24zM525 264h31v1h-31zM368 265h31v1h-31zM502 265h39v1h-39zM360 266h24v1h-24zM510 266h16v1h-16zM353 267h16v1h-16zM330 268h31v1h-31zM325 269h29v1h-29zM321 270h10v1h-10zM317 271h9v1h-9zM313 272h9v1h-9zM308 273h10v1h-10zM301 274h13v1h-13zM293 275h16v1h-16zM278 276h24v1h-24zM256 277h38v1h-38zM196 278h16v1h-16zM233 278h46v1h-46zM181 279h76v1h-76zM166 280h31v1h-31zM211 280h23v1h-23zM159 281h23v1h-23zM151 282h16v1h-16zM144 283h16v1h-16zM136 284h16v1h-16zM129 285h16v1h-16zM121 286h16v1h-16zM106 287h24v1h-24zM84 288h38v1h-38zM58 289h49v1h-49zM58 290h27v1h-27z" fill="#0000ff" shape-rendering="crispEdges"/>
<path d="M1130 81h8v1h-8zM1124 82h20v1h-20zM1120 83h11v1h-11zM1137 83h9v1h-9zM1118 84h7v1h-7zM1143 84h5v1h-5zM1116 85h5v1h-5zM1145 85h6v1h-6zM1114 86h5v1h-5zM1147 86h8v1h-8zM1112 87h5v1h-5zM1150 87h9v1h-9zM1110 88h5v1h-5zM1154 88h9v1h-9zM1108 89h5v1h-5zM1158 89h15v1h-15zM1106 90h5v1h-5zM1162 90h11v1h-11zM1104 91h5v1h-5zM1103 92h4v1h-4zM1101 93h4v1h-4zM1099 94h5v1h-5zM1097 95h5v1h-5zM1095 96h5v1h-5zM1093 97h5v1h-5zM1091 98h5v1h-5zM1089 99h5v1h-5zM1088 100h4v1h-4zM1086 101h4v1h-4zM1085 102h4v1h-4zM1084 103h3v1h-3zM1082 104h4v1h-4zM1080 105h5v1h-5zM1077 106h6v1h-6zM1075 107h6v1h-6zM1072 108h6v1h-6zM1068 109h8v1h-8zM1065 110h8v1h-8zM1062 111h7v1h-7zM1060 112h6v1h-6zM1055 113h8v1h-8zM1048 114h13v1h-13zM1040 115h16v1h-16zM1035 116h14v1h-14zM1031 117h10v1h-10zM1027 118h9v1h-9zM1023 119h9v1h-9zM1020 120h8v1h-8zM1018 121h6v1h-6zM1016 122h5v1h-5zM1013 123h6v1h-6zM1011 124h6v1h-6zM1009 125h5v1h-5zM1007 126h5v1h-5zM1006 127h4v1h-4zM1005 128h3v1h-3zM1004 129h3v1h-3zM1003 130h3v1h-3zM1002 131h3v1h-3zM1001 132h3v1h-3zM1000 133h3v1h-3zM999 134h3v1h-3zM997 135h4v1h-4zM996 136h4v1h-4zM995 137h3v1h-3zM993 138h4v1h-4zM992 139h4v1h-4zM991 140h3v1h-3zM989 141h4v1h-4zM988 142h4v1h-4zM987 143h3v1h-3zM985 144h4v1h-4zM983 145h5v1h-5zM981 146h5v1h-5zM979 147h5v1h-5zM977 148h5v1h-5zM975 149h5v1h-5zM971 150h7v1h-7zM967 151h9v1h-9zM963 152h9v1h-9zM958 153h10v1h-10zM950 154h14v1h-14zM935 155h24v1h-24zM930 156h21v1h-21zM926 157h10v1h-10zM923 158h8v1h-8zM921 159h6v1h-6zM919 160h5v1h-5zM915 161h7v1h-7zM911 162h9v1h-9zM908 163h8v1h-8zM906 164h6v1h-6zM904 165h5v1h-5zM901 166h6v1h-6zM898 167h7v1h-7zM896 168h6v1h-6zM893 169h6v1h-6zM891 170h6v1h-6zM889 171h5v1h-5zM886 172h6v1h-6zM883 173h7v1h-7zM881 174h6v1h-6zM879 175h5v1h-5zM877 176h5v1h-5zM875 177h5v1h-5zM873 178h5v1h-5zM871 179h5v1h-5zM869 180h5v1h-5zM867 181h5v1h-5zM865 182h5v1h-5zM863 183h5v1h-5zM861 184h5v1h-5zM859 185h5v1h-5zM856 186h6v1h-6zM853 187h7v1h-7zM851 188h6v1h-6zM848 189h6v1h-6zM844 190h8v1h-8zM840 191h9v1h-9zM836 192h9v1h-9zM833 193h8v1h-8zM829 194h8v1h-8zM826 195h8v1h-8zM823 196h7v1h-7zM821 197h6v1h-6zM818 198h6v1h-6zM816 199h6v1h-6zM814 200h5v1h-5zM811 201h6v1h-6zM808 202h7v1h-7zM806 203h6v1h-6zM804 204h5v1h-5zM802 205h5v1h-5zM800 206h5v1h-5zM798 207h5v1h-5zM797 208h4v1h-4zM795 209h4v1h-4zM794 210h4v1h-4zM793 211h3v1h-3zM791 212h4v1h-4zM789 213h5v1h-5zM787 214h5v1h-5zM785 215h5v1h-5zM783 216h5v1h-5zM781 217h5v1h-5zM779 218h5v1h-5zM777 219h5v1h-5zM774 220h6v1h-6zM771 221h7v1h-7zM769 222h6v1h-6zM766 223h6v1h-6zM764 224h6v1h-6zM762 225h5v1h-5zM759 226h6v1h-6zM756 227h7v1h-7zM754 228h6v1h-6zM751 229h6v1h-6zM749 230h6v1h-6zM747 231h5v1h-5zM744 232h6v1h-6zM741 233h7v1h-7zM739 234h6v1h-6zM736 235h6v1h-6zM734 236h6v1h-6zM732 237h5v1h-5zM729 238h6v1h-6zM726 239h7v1h-7zM724 240h6v1h-6zM721 241h6v1h-6zM717 242h8v1h-8zM713 243h9v1h-9zM709 244h9v1h-9zM706 245h8v1h-8zM702 246h8v1h-8zM698 247h9v1h-9zM694 248h9v1h-9zM691 249h8v1h-8zM687 250h8v1h-8zM683 251h9v1h-9zM679 252h9v1h-9zM676 253h8v1h-8zM672 254h8v1h-8zM667 255h10v1h-10zM661 256h12v1h-12zM657 257h11v1h-11zM644 258h18v1h-18zM629 259h29v1h-29zM614 260h31v1h-31zM442 261h24v1h-24zM495 261h46v1h-46zM599 261h31v1h-31zM435 262h180v1h-180zM420 263h23v1h-23zM465 263h31v1h-31zM540 263h60v1h-60zM413 264h23v1h-23zM405 265h16v1h-16zM398 266h16v1h-16zM390 267h16v1h-16zM383 268h16v1h-16zM375 269h16v1h-16zM368 270h16v1h-16zM360 271h16v1h-16zM345 272h24v1h-24zM330 273h31v1h-31zM317 274h29v1h-29zM313 275h18v1h-18zM301 276h17v1h-17zM278 277h36v1h-36zM256 278h46v1h-46zM241 279h38v1h-38zM226 280h31v1h-31zM211 281h31v1h-31zM196 282h31v1h-31zM181 283h31v1h-31zM166 284h31v1h-31zM151 285h31v1h-31zM136 286h31v1h-31zM129 287h23v1h-23zM99 288h38v1h-38zM58 289h72v1h-72zM58 290h42v1h-42z" fill="#00b400" shape-rendering="crispEdges"/>
<path d="M1170 129h3v1h-3zM1167 130h6v1h-6zM1165 131h6v1h-6zM1162 132h6v1h-6zM1158 133h8v1h-8zM1154 134h9v1h-9zM1150 135h9v1h-9zM1147 136h8v1h-8zM1143 137h8v1h-8zM1139 138h9v1h-9zM1135 139h9v1h-9zM1132 140h8v1h-8zM1128 141h8v1h-8zM1124 142h9v1h-9zM1120 143h9v1h-9zM1117 144h8v1h-8zM1115 145h6v1h-6zM1113 146h5v1h-5zM1110 147h6v1h-6zM1107 148h7v1h-7zM1105 149h6v1h-6zM1102 150h6v1h-6zM1100 151h6v1h-6zM1098 152h5v1h-5zM1095 153h6v1h-6zM1092 154h7v1h-7zM1090 155h6v1h-6zM1087 156h6v1h-6zM1085 157h6v1h-6zM1083 158h5v1h-5zM1080 159h6v1h-6zM1077 160h7v1h-7zM1075 161h6v1h-6zM1072 162h6v1h-6zM1070 163h6v1h-6zM1068 164h5v1h-5zM1064 165h7v1h-7zM1060 166h9v1h-9zM1057 167h8v1h-8zM1055 168h6v1h-6zM1053 169h5v1h-5zM1050 170h6v1h-6zM1046 171h8v1h-8zM1043 172h8v1h-8zM1040 173h7v1h-7zM1038 174h6v1h-6zM1035 175h6v1h-6zM1031 176h8v1h-8zM1028 177h8v1h-8zM1025 178h7v1h-7zM1023 179h6v1h-6zM1020 180h6v1h-6zM1018 181h6v1h-6zM1016 182h5v1h-5zM1013 183h6v1h-6zM1010 184h7v1h-7zM1008 185h6v1h-6zM1006 186h5v1h-5zM1004 187h5v1h-5zM1002 188h5v1h-5zM1000 189h5v1h-5zM998 190h5v1h-5zM995 191h6v1h-6zM993 192h6v1h-6zM990 193h6v1h-6zM988 194h6v1h-6zM986 195h5v1h-5zM983 196h6v1h-6zM980 197h7v1h-7zM978 198h6v1h-6zM975 199h6v1h-6zM971 200h8v1h-8zM968 201h8v1h-8zM965 202h7v1h-7zM963 203h6v1h-6zM958 204h8v1h-8zM952 205h12v1h-12zM948 206h11v1h-11zM945 207h8v1h-8zM941 208h8v1h-8zM937 209h9v1h-9zM933 210h9v1h-9zM930 211h8v1h-8zM926 212h8v1h-8zM923 213h8v1h-8zM919 214h8v1h-8zM915 215h9v1h-9zM911 216h9v1h-9zM908 217h8v1h-8zM904 218h8v1h-8zM900 219h9v1h-9zM896 220h9v1h-9zM893 221h8v1h-8zM889 222h8v1h-8zM885 223h9v1h-9zM881 224h9v1h-9zM878 225h8v1h-8zM876 226h6v1h-6zM874 227h5v1h-5zM868 228h9v1h-9zM863 229h12v1h-12zM859 230h10v1h-10zM855 231h9v1h-9zM851 232h9v1h-9zM846 233h10v1h-10zM838 234h14v1h-14zM833 235h14v1h-14zM829 236h10v1h-10zM823 237h11v1h-11zM818 238h12v1h-12zM814 239h10v1h-10zM808 240h11v1h-11zM803 241h12v1h-12zM799 242h10v1h-10zM796 243h8v1h-8zM792 244h8v1h-8zM786 245h11v1h-11zM779 246h14v1h-14zM773 247h14v1h-14zM769 248h11v1h-11zM764 249h10v1h-10zM756 250h14v1h-14zM749 251h16v1h-16zM741 252h16v1h-16zM734 253h16v1h-16zM728 254h14v1h-14zM724 255h11v1h-11zM711 256h18v1h-18zM704 257h21v1h-21zM696 258h16v1h-16zM689 259h16v1h-16zM681 260h16v1h-16zM674 261h16v1h-16zM667 262h15v1h-15zM659 263h16v1h-16zM644 264h24v1h-24zM622 265h38v1h-38zM599 266h46v1h-46zM577 267h46v1h-46zM562 268h38v1h-38zM540 269h38v1h-38zM525 270h38v1h-38zM510 271h31v1h-31zM495 272h31v1h-31zM481 273h30v1h-30zM462 274h34v1h-34zM444 275h38v1h-38zM428 276h35v1h-35zM417 277h28v1h-28zM402 278h27v1h-27zM387 279h31v1h-31zM372 280h31v1h-31zM358 281h30v1h-30zM327 282h46v1h-46zM313 283h46v1h-46zM290 284h39v1h-39zM261 285h53v1h-53zM215 286h76v1h-76zM156 287h106v1h-106zM58 288h159v1h-159zM58 289h99v1h-99z" fill="#ff8000" shape-rendering="crispEdges"/>
<rect x="193.00" y="290.00" width="1.00" height="7.00" fill="#c80000"/>
<rect x="342.00" y="290.00" width="1.00" height="7.00" fill="#c80000"/>
<rect x="492.00" y="290.00" width="1.00" height="7.00" fill="#c80000"/>
<rect x="656.00" y="290.00" width="1.00" height="7.00" fill="#c80000"/>
<rect x="813.00" y="290.00" width="1.00" height="7.00" fill="#c80000"/>
<rect x="903.00" y="290.00" width="1.00" height="7.00" fill="#c80000"/>
<rect x="1067.00" y="290.00" width="1.00" height="7.00" fill="#c80000"/>
<rect x="49.5" y="23.5" width="1148" height="272" fill="none" stroke="#c80000" stroke-width="1" shape-rendering="crispEdges"/>
<g shape-rendering="crispEdges">
<rect x="56.00" y="386.00" width="6.00" height="2.00" fill="#ff8080"/>
<rect x="63.00" y="384.00" width="6.00" height="4.00" fill="#ff8080"/>
<rect x="70.00" y="384.00" width="7.00" height="4.00" fill="#ff8080"/>
<rect x="78.00" y="385.00" width="6.00" height="3.00" fill="#ff8080"/>
<rect x="85.00" y="385.00" width="7.00" height="3.00" fill="#ff8080"/>
<rect x="93.00" y="379.00" width="6.00" height="9.00" fill="#ff8080"/>
<rect x="100.00" y="370.00" width="7.00" height="18.00" fill="#ff8080"/>
<rect x="108.00" y="380.00" width="6.00" height="8.00" fill="#ff8080"/>
<rect x="115.00" y="378.00" width="7.00" height="10.00" fill="#ff8080"/>
<rect x="123.00" y="377.00" width="6.00" height="11.00" fill="#ff8080"/>
<rect x="130.00" y="374.00" width="7.00" height="14.00" fill="#ff8080"/>
<rect x="138.00" y="361.00" width="6.00" height="27.00" fill="#ff8080"/>
<rect x="145.00" y="374.00" width="7.00" height="14.00" fill="#00b8b8"/>
<rect x="153.00" y="373.00" width="6.00" height="15.00" fill="#ff8080"/>
<rect x="160.00" y="380.00" width="7.00" height="8.00" fill="#00b8b8"/>
<rect x="168.00" y="382.00" width="6.00" height="6.00" fill="#00b8b8"/>
<rect x="175.00" y="382.00" width="6.00" height="6.00" fill="#00b8b8"/>
<rect x="182.00" y="382.00" width="7.00" height="6.00" fill="#ff8080"/>
<rect x="190.00" y="383.00" width="6.00" height="5.00" fill="#ff8080"/>
<rect x="197.00" y="378.00" width="7.00" height="10.00" fill="#00b8b8"/>
<rect x="205.00" y="382.00" width="6.00" height="6.00" fill="#ff8080"/>
<rect x="212.00" y="375.00" width="7.00" height="13.00" fill="#ff8080"/>
<rect x="220.00" y="381.00" width="6.00" height="7.00" fill="#00b8b8"/>
<rect x="227.00" y="376.00" width="7.00" height="12.00" fill="#ff8080"/>
<rect x="235.00" y="382.00" width="6.00" height="6.00" fill="#00b8b8"/>
<rect x="242.00" y="380.00" width="7.00" height="8.00" fill="#00b8b8"/>
<rect x="250.00" y="384.00" width="6.00" height="4.00" fill="#ff8080"/>
<rect x="257.00" y="377.00" width="7.00" height="11.00" fill="#ff8080"/>
<rect x="265.00" y="383.00" width="6.00" height="5.00" fill="#00b8b8"/>
<rect x="272.00" y="373.00" width="7.00" height="15.00" fill="#ff8080"/>
<rect x="280.00" y="368.00" width="6.00" height="20.00" fill="#00b8b8"/>
<rect x="287.00" y="383.00" width="7.00" height="5.00" fill="#00b8b8"/>
<rect x="295.00" y="369.00" width="6.00" height="19.00" fill="#ff8080"/>
<rect x="302.00" y="375.00" width="6.00" height="13.00" fill="#ff8080"/>
<rect x="309.00" y="365.00" width="7.00" height="23.00" fill="#ff8080"/>
<rect x="317.00" y="341.00" width="6.00" height="47.00" fill="#ff8080"/>
<rect x="324.00" y="360.00" width="7.00" height="28.00" fill="#00b8b8"/>
<rect x="332.00" y="358.00" width="6.00" height="30.00" fill="#00b8b8"/>
<rect x="339.00" y="370.00" width="7.00" height="18.00" fill="#00b8b8"/>
<rect x="347.00" y="374.00" width="6.00" height="14.00" fill="#00b8b8"/>
<rect x="354.00" y="372.00" width="7.00" height="16.00" fill="#ff8080"/>
<rect x="362.00" y="354.00" width="6.00" height="34.00" fill="#ff8080"/>
<rect x="369.00" y="346.00" width="7.00" height="42.00" fill="#ff8080"/>
<rect x="377.00" y="345.00" width="6.00" height="43.00" fill="#ff8080"/>
<rect x="384.00" y="338.00" width="7.00" height="50.00" fill="#ff8080"/>
<rect x="392.00" y="345.00" width="6.00" height="43.00" fill="#ff8080"/>
<rect x="399.00" y="357.00" width="7.00" height="31.00" fill="#00b8b8"/>
<rect x="407.00" y="371.00" width="6.00" height="17.00" fill="#00b8b8"/>
<rect x="414.00" y="360.00" width="7.00" height="28.00" fill="#ff8080"/>
<rect x="422.00" y="371.00" width="6.00" height="17.00" fill="#00b8b8"/>
<rect x="429.00" y="376.00" width="6.00" height="12.00" fill="#00b8b8"/>
<rect x="436.00" y="370.00" width="7.00" height="18.00" fill="#ff8080"/>
<rect x="444.00" y="377.00" width="6.00" height="11.00" fill="#00b8b8"/>
<rect x="451.00" y="375.00" width="7.00" height="13.00" fill="#00b8b8"/>
<rect x="459.00" y="375.00" width="6.00" height="13.00" fill="#ff8080"/>
<rect x="466.00" y="376.00" width="7.00" height="12.00" fill="#00b8b8"/>
<rect x="474.00" y="378.00" width="6.00" height="10.00" fill="#ff8080"/>
<rect x="481.00" y="379.00" width="7.00" height="9.00" fill="#ff8080"/>
<rect x="489.00" y="381.00" width="6.00" height="7.00" fill="#00b8b8"/>
<rect x="496.00" y="373.00" width="7.00" height="15.00" fill="#00b8b8"/>
<rect x="504.00" y="379.00" width="6.00" height="9.00" fill="#00b8b8"/>
<rect x="511.00" y="381.00" width="7.00" height="7.00" fill="#ff8080"/>
<rect x="519.00" y="379.00" width="6.00" height="9.00" fill="#ff8080"/>
<rect x="526.00" y="369.00" width="7.00" height="19.00" fill="#ff8080"/>
<rect x="534.00" y="355.00" width="6.00" height="33.00" fill="#ff8080"/>
<rect x="541.00" y="368.00" width="7.00" height="20.00" fill="#00b8b8"/>
<rect x="549.00" y="377.00" width="6.00" height="11.00" fill="#00b8b8"/>
<rect x="556.00" y="369.00" width="6.00" height="19.00" fill="#ff8080"/>
<rect x="563.00" y="377.00" width="7.00" height="11.00" fill="#00b8b8"/>
<rect x="571.00" y="377.00" width="6.00" height="11.00" fill="#00b8b8"/>
<rect x="578.00" y="375.00" width="7.00" height="13.00" fill="#ff8080"/>
<rect x="586.00" y="369.00" width="6.00" height="19.00" fill="#ff8080"/>
<rect x="593.00" y="374.00" width="7.00" height="14.00" fill="#00b8b8"/>
<rect x="601.00" y="372.00" width="6.00" height="16.00" fill="#ff8080"/>
<rect x="608.00" y="377.00" width="7.00" height="11.00" fill="#00b8b8"/>
<rect x="616.00" y="379.00" width="6.00" height="9.00" fill="#ff8080"/>
<rect x="623.00" y="375.00" width="7.00" height="13.00" fill="#ff8080"/>
<rect x="631.00" y="379.00" width="6.00" height="9.00" fill="#00b8b8"/>
<rect x="638.00" y="377.00" width="7.00" height="11.00" fill="#ff8080"/>
<rect x="646.00" y="358.00" width="6.00" height="30.00" fill="#ff8080"/>
<rect x="653.00" y="368.00" width="7.00" height="20.00" fill="#ff8080"/>
<rect x="661.00" y="383.00" width="6.00" height="5.00" fill="#ff8080"/>
<rect x="668.00" y="345.00" width="6.00" height="43.00" fill="#ff8080"/>
<rect x="675.00" y="335.00" width="7.00" height="53.00" fill="#ff8080"/>
<rect x="683.00" y="328.00" width="6.00" height="60.00" fill="#ff8080"/>
<rect x="690.00" y="304.00" width="7.00" height="84.00" fill="#00b8b8"/>
<rect x="698.00" y="380.00" width="6.00" height="8.00" fill="#ff8080"/>
<rect x="705.00" y="382.00" width="7.00" height="6.00" fill="#00b8b8"/>
<rect x="713.00" y="384.00" width="6.00" height="4.00" fill="#00b8b8"/>
<rect x="720.00" y="383.00" width="7.00" height="5.00" fill="#ff8080"/>
<rect x="728.00" y="379.00" width="6.00" height="9.00" fill="#ff8080"/>
<rect x="735.00" y="382.00" width="7.00" height="6.00" fill="#ff8080"/>
<rect x="743.00" y="379.00" width="6.00" height="9.00" fill="#ff8080"/>
<rect x="750.00" y="377.00" width="7.00" height="11.00" fill="#00b8b8"/>
<rect x="758.00" y="380.00" width="6.00" height="8.00" fill="#ff8080"/>
<rect x="765.00" y="380.00" width="7.00" height="8.00" fill="#00b8b8"/>
<rect x="773.00" y="364.00" width="6.00" height="24.00" fill="#ff8080"/>
<rect x="780.00" y="348.00" width="7.00" height="40.00" fill="#ff8080"/>
<rect x="788.00" y="363.00" width="6.00" height="25.00" fill="#ff8080"/>
<rect x="795.00" y="335.00" width="6.00" height="53.00" fill="#ff8080"/>
<rect x="802.00" y="342.00" width="7.00" height="46.00" fill="#ff8080"/>
<rect x="810.00" y="360.00" width="6.00" height="28.00" fill="#00b8b8"/>
<rect x="817.00" y="342.00" width="7.00" height="46.00" fill="#00b8b8"/>
<rect x="825.00" y="359.00" width="6.00" height="29.00" fill="#ff8080"/>
<rect x="832.00" y="361.00" width="7.00" height="27.00" fill="#00b8b8"/>
<rect x="840.00" y="360.00" width="6.00" height="28.00" fill="#00b8b8"/>
<rect x="847.00" y="373.00" width="7.00" height="15.00" fill="#ff8080"/>
<rect x="855.00" y="356.00" width="6.00" height="32.00" fill="#ff8080"/>
<rect x="862.00" y="348.00" width="7.00" height="40.00" fill="#ff8080"/>
<rect x="870.00" y="365.00" width="6.00" height="23.00" fill="#ff8080"/>
<rect x="877.00" y="373.00" width="7.00" height="15.00" fill="#ff8080"/>
<rect x="885.00" y="363.00" width="6.00" height="25.00" fill="#00b8b8"/>
<rect x="892.00" y="371.00" width="7.00" height="17.00" fill="#ff8080"/>
<rect x="900.00" y="368.00" width="6.00" height="20.00" fill="#ff8080"/>
<rect x="907.00" y="361.00" width="7.00" height="27.00" fill="#00b8b8"/>
<rect x="915.00" y="367.00" width="6.00" height="21.00" fill="#00b8b8"/>
<rect x="922.00" y="378.00" width="6.00" height="10.00" fill="#ff8080"/>
<rect x="929.00" y="369.00" width="7.00" height="19.00" fill="#00b8b8"/>
<rect x="937.00" y="383.00" width="6.00" height="5.00" fill="#00b8b8"/>
<rect x="944.00" y="351.00" width="7.00" height="37.00" fill="#00b8b8"/>
<rect x="952.00" y="372.00" width="6.00" height="16.00" fill="#ff8080"/>
<rect x="959.00" y="356.00" width="7.00" height="32.00" fill="#00b8b8"/>
<rect x="967.00" y="360.00" width="6.00" height="28.00" fill="#ff8080"/>
<rect x="974.00" y="384.00" width="7.00" height="4.00" fill="#ff8080"/>
<rect x="982.00" y="380.00" width="6.00" height="8.00" fill="#ff8080"/>
<rect x="989.00" y="360.00" width="7.00" height="28.00" fill="#ff8080"/>
<rect x="997.00" y="377.00" width="6.00" height="11.00" fill="#ff8080"/>
<rect x="1004.00" y="379.00" width="7.00" height="9.00" fill="#ff8080"/>
<rect x="1012.00" y="382.00" width="6.00" height="6.00" fill="#00b8b8"/>
<rect x="1019.00" y="382.00" width="7.00" height="6.00" fill="#00b8b8"/>
<rect x="1027.00" y="384.00" width="6.00" height="4.00" fill="#ff8080"/>
<rect x="1034.00" y="382.00" width="7.00" height="6.00" fill="#00b8b8"/>
<rect x="1042.00" y="382.00" width="6.00" height="6.00" fill="#00b8b8"/>
<rect x="1049.00" y="385.00" width="6.00" height="3.00" fill="#ff8080"/>
<rect x="1056.00" y="384.00" width="7.00" height="4.00" fill="#00b8b8"/>
<rect x="1064.00" y="385.00" width="6.00" height="3.00" fill="#ff8080"/>
<rect x="1071.00" y="385.00" width="7.00" height="3.00" fill="#ff8080"/>
<rect x="1079.00" y="386.00" width="6.00" height="2.00" fill="#ff8080"/>
<rect x="1086.00" y="385.00" width="7.00" height="3.00" fill="#ff8080"/>
<rect x="1094.00" y="368.00" width="6.00" height="20.00" fill="#00b8b8"/>
<rect x="1101.00" y="365.00" width="7.00" height="23.00" fill="#ff8080"/>
<rect x="1109.00" y="376.00" width="6.00" height="12.00" fill="#ff8080"/>
<rect x="1116.00" y="358.00" width="7.00" height="30.00" fill="#ff8080"/>
<rect x="1124.00" y="358.00" width="6.00" height="30.00" fill="#00b8b8"/>
<rect x="1131.00" y="371.00" width="7.00" height="17.00" fill="#00b8b8"/>
<rect x="1139.00" y="373.00" width="6.00" height="15.00" fill="#00b8b8"/>
<rect x="1146.00" y="368.00" width="7.00" height="20.00" fill="#00b8b8"/>
<rect x="1154.00" y="372.00" width="6.00" height="16.00" fill="#ff8080"/>
<rect x="1161.00" y="370.00" width="7.00" height="18.00" fill="#ff8080"/>
<rect x="1169.00" y="362.00" width="6.00" height="26.00" fill="#00b8b8"/>
</g>
<path d="M696 337h6v1h-6zM692 338h11v1h-11zM691 339h6v1h-6zM701 339h3v1h-3zM691 340h2v1h-2zM702 340h3v1h-3zM690 341h3v1h-3zM703 341h3v1h-3zM690 342h2v1h-2zM704 342h2v1h-2zM689 343h3v1h-3zM704 343h3v1h-3zM689 344h2v1h-2zM705 344h3v1h-3zM394 345h9v1h-9zM688 345h3v1h-3zM706 345h3v1h-3zM392 346h13v1h-13zM688 346h2v1h-2zM707 346h3v1h-3zM390 347h5v1h-5zM402 347h4v1h-4zM687 347h3v1h-3zM708 347h3v1h-3zM818 347h11v1h-11zM389 348h4v1h-4zM404 348h4v1h-4zM687 348h2v1h-2zM709 348h2v1h-2zM814 348h17v1h-17zM387 349h4v1h-4zM405 349h5v1h-5zM686 349h3v1h-3zM709 349h3v1h-3zM804 349h15v1h-15zM828 349h4v1h-4zM386 350h4v1h-4zM407 350h5v1h-5zM686 350h2v1h-2zM710 350h3v1h-3zM803 350h12v1h-12zM830 350h3v1h-3zM385 351h3v1h-3zM409 351h5v1h-5zM685 351h3v1h-3zM711 351h3v1h-3zM802 351h3v1h-3zM831 351h4v1h-4zM384 352h3v1h-3zM411 352h5v1h-5zM683 352h4v1h-4zM712 352h3v1h-3zM801 352h3v1h-3zM832 352h5v1h-5zM383 353h3v1h-3zM413 353h5v1h-5zM682 353h4v1h-4zM713 353h2v1h-2zM801 353h2v1h-2zM834 353h5v1h-5zM382 354h3v1h-3zM415 354h4v1h-4zM681 354h3v1h-3zM713 354h3v1h-3zM800 354h3v1h-3zM836 354h6v1h-6zM381 355h3v1h-3zM417 355h3v1h-3zM679 355h4v1h-4zM714 355h3v1h-3zM799 355h3v1h-3zM838 355h7v1h-7zM380 356h3v1h-3zM418 356h3v1h-3zM678 356h4v1h-4zM715 356h3v1h-3zM798 356h3v1h-3zM841 356h6v1h-6zM379 357h3v1h-3zM419 357h4v1h-4zM677 357h3v1h-3zM716 357h2v1h-2zM797 357h3v1h-3zM844 357h5v1h-5zM338 358h6v1h-6zM377 358h4v1h-4zM420 358h4v1h-4zM676 358h3v1h-3zM716 358h3v1h-3zM796 358h3v1h-3zM846 358h6v1h-6zM332 359h16v1h-16zM375 359h5v1h-5zM422 359h3v1h-3zM675 359h3v1h-3zM717 359h3v1h-3zM795 359h3v1h-3zM848 359h6v1h-6zM863 359h12v1h-12zM328 360h11v1h-11zM343 360h8v1h-8zM374 360h4v1h-4zM423 360h3v1h-3zM674 360h3v1h-3zM718 360h2v1h-2zM795 360h2v1h-2zM851 360h6v1h-6zM859 360h18v1h-18zM885 360h5v1h-5zM326 361h7v1h-7zM347 361h5v1h-5zM372 361h4v1h-4zM424 361h3v1h-3zM674 361h2v1h-2zM718 361h3v1h-3zM794 361h3v1h-3zM853 361h11v1h-11zM874 361h5v1h-5zM881 361h11v1h-11zM324 362h5v1h-5zM350 362h3v1h-3zM370 362h5v1h-5zM425 362h3v1h-3zM673 362h3v1h-3zM719 362h2v1h-2zM793 362h3v1h-3zM856 362h4v1h-4zM876 362h10v1h-10zM889 362h5v1h-5zM323 363h4v1h-4zM351 363h4v1h-4zM368 363h5v1h-5zM426 363h4v1h-4zM672 363h3v1h-3zM719 363h3v1h-3zM792 363h3v1h-3zM878 363h4v1h-4zM891 363h5v1h-5zM967 363h7v1h-7zM322 364h3v1h-3zM352 364h4v1h-4zM366 364h5v1h-5zM427 364h4v1h-4zM671 364h3v1h-3zM720 364h3v1h-3zM792 364h2v1h-2zM893 364h5v1h-5zM963 364h15v1h-15zM1126 364h5v1h-5zM320 365h4v1h-4zM354 365h3v1h-3zM360 365h9v1h-9zM429 365h3v1h-3zM670 365h3v1h-3zM721 365h2v1h-2zM791 365h3v1h-3zM895 365h5v1h-5zM913 365h7v1h-7zM961 365h7v1h-7zM973 365h7v1h-7zM1124 365h14v1h-14zM1145 365h6v1h-6zM319 366h4v1h-4zM355 366h12v1h-12zM430 366h4v1h-4zM669 366h3v1h-3zM721 366h3v1h-3zM789 366h4v1h-4zM897 366h5v1h-5zM906 366h16v1h-16zM959 366h5v1h-5zM977 366h4v1h-4zM1123 366h4v1h-4zM1130 366h25v1h-25zM317 367h4v1h-4zM356 367h5v1h-5zM431 367h5v1h-5zM557 367h6v1h-6zM668 367h3v1h-3zM722 367h3v1h-3zM786 367h6v1h-6zM899 367h15v1h-15zM919 367h5v1h-5zM958 367h4v1h-4zM979 367h4v1h-4zM990 367h3v1h-3zM1122 367h3v1h-3zM1137 367h9v1h-9zM1150 367h9v1h-9zM315 368h5v1h-5zM433 368h5v1h-5zM553 368h14v1h-14zM667 368h3v1h-3zM723 368h2v1h-2zM784 368h6v1h-6zM901 368h6v1h-6zM921 368h13v1h-13zM957 368h3v1h-3zM980 368h5v1h-5zM986 368h9v1h-9zM1120 368h4v1h-4zM1154 368h7v1h-7zM1169 368h4v1h-4zM314 369h4v1h-4zM435 369h8v1h-8zM542 369h16v1h-16zM562 369h7v1h-7zM666 369h3v1h-3zM723 369h3v1h-3zM782 369h5v1h-5zM923 369h13v1h-13zM945 369h6v1h-6zM955 369h4v1h-4zM982 369h9v1h-9zM992 369h5v1h-5zM1119 369h4v1h-4zM1158 369h5v1h-5zM1165 369h8v1h-8zM312 370h4v1h-4zM437 370h12v1h-12zM540 370h14v1h-14zM566 370h4v1h-4zM665 370h3v1h-3zM724 370h2v1h-2zM781 370h4v1h-4zM933 370h6v1h-6zM941 370h17v1h-17zM984 370h3v1h-3zM994 370h5v1h-5zM1118 370h3v1h-3zM1160 370h10v1h-10zM151 371h14v1h-14zM310 371h5v1h-5zM442 371h9v1h-9zM538 371h5v1h-5zM568 371h4v1h-4zM654 371h6v1h-6zM664 371h3v1h-3zM724 371h3v1h-3zM780 371h3v1h-3zM935 371h11v1h-11zM950 371h6v1h-6zM996 371h5v1h-5zM1116 371h4v1h-4zM1162 371h4v1h-4zM144 372h25v1h-25zM306 372h7v1h-7zM448 372h5v1h-5zM535 372h6v1h-6zM569 372h5v1h-5zM586 372h7v1h-7zM599 372h16v1h-16zM650 372h16v1h-16zM725 372h2v1h-2zM778 372h4v1h-4zM938 372h4v1h-4zM998 372h5v1h-5zM1115 372h4v1h-4zM138 373h14v1h-14zM164 373h8v1h-8zM301 373h10v1h-10zM450 373h8v1h-8zM532 373h7v1h-7zM571 373h7v1h-7zM582 373h41v1h-41zM647 373h8v1h-8zM659 373h6v1h-6zM725 373h3v1h-3zM777 373h4v1h-4zM1000 373h5v1h-5zM1114 373h3v1h-3zM134 374h11v1h-11zM168 374h6v1h-6zM295 374h12v1h-12zM452 374h21v1h-21zM530 374h6v1h-6zM573 374h14v1h-14zM592 374h8v1h-8zM614 374h16v1h-16zM644 374h7v1h-7zM726 374h2v1h-2zM776 374h3v1h-3zM1002 374h5v1h-5zM1112 374h4v1h-4zM129 375h10v1h-10zM171 375h5v1h-5zM291 375h11v1h-11zM457 375h24v1h-24zM527 375h6v1h-6zM577 375h6v1h-6zM622 375h16v1h-16zM642 375h6v1h-6zM726 375h3v1h-3zM774 375h4v1h-4zM1004 375h19v1h-19zM1109 375h6v1h-6zM121 376h14v1h-14zM173 376h5v1h-5zM280 376h16v1h-16zM472 376h16v1h-16zM525 376h6v1h-6zM629 376h16v1h-16zM727 376h2v1h-2zM772 376h5v1h-5zM1006 376h19v1h-19zM1105 376h8v1h-8zM116 377h14v1h-14zM175 377h5v1h-5zM228 377h6v1h-6zM276 377h16v1h-16zM480 377h31v1h-31zM523 377h5v1h-5zM637 377h6v1h-6zM727 377h3v1h-3zM770 377h5v1h-5zM1022 377h4v1h-4zM1103 377h7v1h-7zM112 378h10v1h-10zM177 378h7v1h-7zM224 378h23v1h-23zM273 378h8v1h-8zM487 378h39v1h-39zM728 378h2v1h-2zM756 378h9v1h-9zM768 378h5v1h-5zM1024 378h4v1h-4zM1101 378h5v1h-5zM106 379h11v1h-11zM179 379h8v1h-8zM211 379h18v1h-18zM233 379h18v1h-18zM256 379h8v1h-8zM269 379h8v1h-8zM510 379h14v1h-14zM728 379h3v1h-3zM749 379h22v1h-22zM1025 379h5v1h-5zM1099 379h5v1h-5zM101 380h12v1h-12zM183 380h8v1h-8zM196 380h29v1h-29zM246 380h28v1h-28zM729 380h2v1h-2zM741 380h16v1h-16zM764 380h5v1h-5zM1027 380h7v1h-7zM1097 380h5v1h-5zM99 381h8v1h-8zM186 381h26v1h-26zM250 381h7v1h-7zM263 381h7v1h-7zM729 381h21v1h-21zM1029 381h12v1h-12zM1095 381h5v1h-5zM97 382h5v1h-5zM190 382h7v1h-7zM730 382h12v1h-12zM1033 382h30v1h-30zM1092 382h6v1h-6zM91 383h9v1h-9zM1040 383h38v1h-38zM1090 383h6v1h-6zM62 384h36v1h-36zM1062 384h31v1h-31zM58 385h34v1h-34zM1077 385h14v1h-14zM58 386h5v1h-5z" fill="#ff0000" shape-rendering="crispEdges"/>
<path d="M840 352h7v1h-7zM836 353h18v1h-18zM861 353h6v1h-6zM692 354h5v1h-5zM833 354h8v1h-8zM846 354h23v1h-23zM385 355h21v1h-21zM413 355h21v1h-21zM691 355h21v1h-21zM829 355h8v1h-8zM853 355h9v1h-9zM866 355h6v1h-6zM383 356h55v1h-55zM690 356h3v1h-3zM696 356h22v1h-22zM825 356h9v1h-9zM868 356h7v1h-7zM381 357h5v1h-5zM405 357h9v1h-9zM433 357h8v1h-8zM689 357h3v1h-3zM711 357h11v1h-11zM821 357h9v1h-9zM871 357h6v1h-6zM378 358h6v1h-6zM437 358h6v1h-6zM689 358h2v1h-2zM717 358h10v1h-10zM819 358h7v1h-7zM874 358h5v1h-5zM375 359h7v1h-7zM440 359h6v1h-6zM688 359h3v1h-3zM721 359h18v1h-18zM817 359h5v1h-5zM876 359h14v1h-14zM373 360h6v1h-6zM442 360h7v1h-7zM687 360h3v1h-3zM726 360h15v1h-15zM815 360h5v1h-5zM878 360h14v1h-14zM370 361h6v1h-6zM445 361h6v1h-6zM686 361h3v1h-3zM738 361h5v1h-5zM813 361h5v1h-5zM889 361h5v1h-5zM366 362h8v1h-8zM448 362h5v1h-5zM685 362h3v1h-3zM740 362h5v1h-5zM810 362h6v1h-6zM891 362h8v1h-8zM363 363h8v1h-8zM450 363h5v1h-5zM683 363h4v1h-4zM742 363h5v1h-5zM806 363h8v1h-8zM893 363h29v1h-29zM360 364h7v1h-7zM452 364h5v1h-5zM681 364h5v1h-5zM744 364h5v1h-5zM804 364h7v1h-7zM898 364h31v1h-31zM340 365h14v1h-14zM358 365h6v1h-6zM454 365h5v1h-5zM680 365h4v1h-4zM746 365h5v1h-5zM802 365h5v1h-5zM921 365h12v1h-12zM967 365h5v1h-5zM336 366h25v1h-25zM456 366h5v1h-5zM678 366h4v1h-4zM748 366h5v1h-5zM800 366h5v1h-5zM928 366h7v1h-7zM963 366h13v1h-13zM1167 366h6v1h-6zM332 367h9v1h-9zM353 367h6v1h-6zM458 367h6v1h-6zM676 367h5v1h-5zM750 367h4v1h-4zM798 367h5v1h-5zM932 367h5v1h-5zM945 367h23v1h-23zM971 367h8v1h-8zM1160 367h13v1h-13zM328 368h9v1h-9zM460 368h6v1h-6zM674 368h5v1h-5zM752 368h4v1h-4zM797 368h4v1h-4zM934 368h5v1h-5zM941 368h23v1h-23zM975 368h8v1h-8zM988 368h16v1h-16zM1154 368h14v1h-14zM325 369h8v1h-8zM463 369h5v1h-5zM672 369h5v1h-5zM753 369h4v1h-4zM795 369h4v1h-4zM936 369h10v1h-10zM978 369h39v1h-39zM1150 369h11v1h-11zM321 370h8v1h-8zM465 370h6v1h-6zM586 370h20v1h-20zM669 370h6v1h-6zM755 370h4v1h-4zM794 370h4v1h-4zM938 370h4v1h-4zM982 370h7v1h-7zM1003 370h16v1h-16zM1147 370h8v1h-8zM318 371h8v1h-8zM467 371h8v1h-8zM582 371h26v1h-26zM667 371h6v1h-6zM756 371h5v1h-5zM793 371h3v1h-3zM1016 371h5v1h-5zM1143 371h8v1h-8zM316 372h6v1h-6zM470 372h11v1h-11zM555 372h32v1h-32zM605 372h5v1h-5zM652 372h8v1h-8zM665 372h5v1h-5zM758 372h4v1h-4zM791 372h4v1h-4zM1018 372h8v1h-8zM1137 372h11v1h-11zM314 373h5v1h-5zM474 373h12v1h-12zM540 373h43v1h-43zM607 373h8v1h-8zM622 373h8v1h-8zM644 373h24v1h-24zM760 373h3v1h-3zM788 373h6v1h-6zM1020 373h12v1h-12zM1130 373h14v1h-14zM151 374h24v1h-24zM312 374h5v1h-5zM480 374h10v1h-10zM534 374h22v1h-22zM609 374h44v1h-44zM659 374h7v1h-7zM761 374h3v1h-3zM784 374h8v1h-8zM1025 374h9v1h-9zM1125 374h13v1h-13zM144 375h45v1h-45zM308 375h7v1h-7zM485 375h26v1h-26zM530 375h11v1h-11zM614 375h9v1h-9zM629 375h16v1h-16zM762 375h3v1h-3zM781 375h8v1h-8zM1031 375h5v1h-5zM1122 375h9v1h-9zM139 376h13v1h-13zM174 376h30v1h-30zM301 376h12v1h-12zM489 376h29v1h-29zM525 376h10v1h-10zM763 376h3v1h-3zM779 376h6v1h-6zM1033 376h6v1h-6zM1120 376h6v1h-6zM136 377h9v1h-9zM188 377h24v1h-24zM278 377h9v1h-9zM293 377h16v1h-16zM510 377h21v1h-21zM764 377h2v1h-2zM777 377h5v1h-5zM1035 377h8v1h-8zM1117 377h6v1h-6zM134 378h6v1h-6zM203 378h16v1h-16zM271 378h31v1h-31zM517 378h9v1h-9zM764 378h3v1h-3zM773 378h7v1h-7zM1038 378h18v1h-18zM1113 378h8v1h-8zM129 379h8v1h-8zM211 379h68v1h-68zM286 379h8v1h-8zM765 379h3v1h-3zM769 379h9v1h-9zM1042 379h19v1h-19zM1107 379h11v1h-11zM114 380h21v1h-21zM218 380h54v1h-54zM766 380h8v1h-8zM1055 380h10v1h-10zM1102 380h12v1h-12zM101 381h29v1h-29zM767 381h3v1h-3zM1060 381h11v1h-11zM1098 381h10v1h-10zM97 382h18v1h-18zM1064 382h14v1h-14zM1092 382h11v1h-11zM91 383h11v1h-11zM1070 383h29v1h-29zM62 384h36v1h-36zM1077 384h16v1h-16zM58 385h34v1h-34zM58 386h5v1h-5z" fill="#0000ff" shape-rendering="crispEdges"/>
<rect x="49.5" y="303.5" width="1148" height="84" fill="none" stroke="#c80000" stroke-width="1" shape-rendering="crispEdges"/>
<path d="M684 400h4v1h-4zM742 400h5v1h-5zM132 401h12v1h-12zM680 401h10v1h-10zM736 401h13v1h-13zM128 402h20v1h-20zM676 402h9v1h-9zM687 402h4v1h-4zM732 402h11v1h-11zM746 402h5v1h-5zM125 403h8v1h-8zM143 403h8v1h-8zM674 403h7v1h-7zM689 403h4v1h-4zM730 403h7v1h-7zM748 403h5v1h-5zM798 403h8v1h-8zM122 404h7v1h-7zM147 404h6v1h-6zM313 404h9v1h-9zM672 404h5v1h-5zM690 404h14v1h-14zM728 404h5v1h-5zM750 404h4v1h-4zM796 404h11v1h-11zM120 405h6v1h-6zM150 405h4v1h-4zM312 405h11v1h-11zM670 405h5v1h-5zM692 405h16v1h-16zM726 405h5v1h-5zM752 405h4v1h-4zM794 405h5v1h-5zM805 405h4v1h-4zM999 405h10v1h-10zM118 406h5v1h-5zM152 406h3v1h-3zM310 406h4v1h-4zM321 406h3v1h-3zM669 406h4v1h-4zM703 406h26v1h-26zM753 406h4v1h-4zM792 406h5v1h-5zM806 406h4v1h-4zM997 406h14v1h-14zM116 407h5v1h-5zM153 407h4v1h-4zM309 407h4v1h-4zM322 407h3v1h-3zM668 407h3v1h-3zM707 407h20v1h-20zM755 407h3v1h-3zM790 407h5v1h-5zM808 407h3v1h-3zM995 407h5v1h-5zM1008 407h4v1h-4zM114 408h5v1h-5zM154 408h4v1h-4zM308 408h3v1h-3zM323 408h3v1h-3zM666 408h4v1h-4zM756 408h4v1h-4zM789 408h4v1h-4zM809 408h3v1h-3zM993 408h5v1h-5zM1010 408h3v1h-3zM113 409h4v1h-4zM156 409h3v1h-3zM307 409h3v1h-3zM324 409h2v1h-2zM665 409h4v1h-4zM757 409h4v1h-4zM788 409h3v1h-3zM810 409h3v1h-3zM880 409h3v1h-3zM991 409h5v1h-5zM1011 409h4v1h-4zM111 410h4v1h-4zM157 410h3v1h-3zM306 410h3v1h-3zM324 410h3v1h-3zM664 410h3v1h-3zM759 410h3v1h-3zM787 410h3v1h-3zM811 410h2v1h-2zM878 410h9v1h-9zM900 410h4v1h-4zM990 410h4v1h-4zM1012 410h4v1h-4zM110 411h4v1h-4zM158 411h3v1h-3zM304 411h4v1h-4zM325 411h3v1h-3zM663 411h3v1h-3zM760 411h3v1h-3zM787 411h2v1h-2zM811 411h3v1h-3zM876 411h5v1h-5zM882 411h23v1h-23zM989 411h3v1h-3zM1014 411h3v1h-3zM109 412h3v1h-3zM159 412h3v1h-3zM303 412h4v1h-4zM326 412h3v1h-3zM661 412h4v1h-4zM761 412h3v1h-3zM786 412h3v1h-3zM812 412h3v1h-3zM875 412h4v1h-4zM886 412h15v1h-15zM903 412h3v1h-3zM988 412h3v1h-3zM1015 412h3v1h-3zM108 413h3v1h-3zM160 413h2v1h-2zM302 413h3v1h-3zM327 413h3v1h-3zM660 413h4v1h-4zM762 413h4v1h-4zM785 413h3v1h-3zM813 413h4v1h-4zM873 413h4v1h-4zM904 413h3v1h-3zM987 413h3v1h-3zM1016 413h3v1h-3zM107 414h3v1h-3zM160 414h3v1h-3zM301 414h3v1h-3zM328 414h2v1h-2zM394 414h11v1h-11zM659 414h3v1h-3zM763 414h4v1h-4zM775 414h12v1h-12zM814 414h4v1h-4zM871 414h5v1h-5zM905 414h3v1h-3zM986 414h3v1h-3zM1017 414h3v1h-3zM107 415h2v1h-2zM161 415h3v1h-3zM300 415h3v1h-3zM328 415h3v1h-3zM393 415h20v1h-20zM658 415h3v1h-3zM765 415h3v1h-3zM772 415h14v1h-14zM816 415h3v1h-3zM826 415h4v1h-4zM869 415h5v1h-5zM906 415h3v1h-3zM986 415h2v1h-2zM1018 415h2v1h-2zM1118 415h3v1h-3zM106 416h3v1h-3zM162 416h3v1h-3zM299 416h3v1h-3zM329 416h3v1h-3zM392 416h3v1h-3zM404 416h15v1h-15zM658 416h2v1h-2zM766 416h3v1h-3zM770 416h6v1h-6zM817 416h4v1h-4zM822 416h12v1h-12zM867 416h5v1h-5zM907 416h3v1h-3zM985 416h3v1h-3zM1018 416h3v1h-3zM1116 416h6v1h-6zM105 417h3v1h-3zM163 417h3v1h-3zM298 417h3v1h-3zM330 417h2v1h-2zM391 417h3v1h-3zM412 417h9v1h-9zM657 417h3v1h-3zM767 417h6v1h-6zM818 417h9v1h-9zM829 417h8v1h-8zM865 417h5v1h-5zM908 417h3v1h-3zM984 417h3v1h-3zM1019 417h3v1h-3zM1114 417h5v1h-5zM1120 417h3v1h-3zM104 418h3v1h-3zM164 418h3v1h-3zM275 418h3v1h-3zM296 418h4v1h-4zM330 418h3v1h-3zM390 418h3v1h-3zM418 418h4v1h-4zM656 418h3v1h-3zM768 418h3v1h-3zM820 418h3v1h-3zM833 418h5v1h-5zM864 418h4v1h-4zM909 418h3v1h-3zM983 418h3v1h-3zM1020 418h3v1h-3zM1112 418h5v1h-5zM1121 418h3v1h-3zM103 419h3v1h-3zM165 419h3v1h-3zM274 419h7v1h-7zM295 419h4v1h-4zM331 419h3v1h-3zM389 419h3v1h-3zM420 419h3v1h-3zM564 419h27v1h-27zM622 419h5v1h-5zM656 419h2v1h-2zM836 419h2v1h-2zM864 419h2v1h-2zM910 419h3v1h-3zM982 419h3v1h-3zM1021 419h4v1h-4zM1110 419h5v1h-5zM1122 419h2v1h-2zM102 420h3v1h-3zM166 420h3v1h-3zM273 420h3v1h-3zM277 420h7v1h-7zM294 420h3v1h-3zM332 420h2v1h-2zM388 420h3v1h-3zM421 420h4v1h-4zM561 420h31v1h-31zM618 420h11v1h-11zM655 420h3v1h-3zM836 420h3v1h-3zM863 420h3v1h-3zM911 420h2v1h-2zM981 420h3v1h-3zM1022 420h5v1h-5zM1108 420h5v1h-5zM1122 420h3v1h-3zM102 421h2v1h-2zM167 421h2v1h-2zM273 421h2v1h-2zM280 421h8v1h-8zM293 421h3v1h-3zM332 421h3v1h-3zM387 421h3v1h-3zM422 421h4v1h-4zM559 421h6v1h-6zM590 421h2v1h-2zM616 421h7v1h-7zM626 421h5v1h-5zM654 421h3v1h-3zM837 421h3v1h-3zM862 421h3v1h-3zM911 421h3v1h-3zM981 421h2v1h-2zM1024 421h5v1h-5zM1106 421h5v1h-5zM1123 421h3v1h-3zM101 422h3v1h-3zM167 422h3v1h-3zM272 422h3v1h-3zM283 422h8v1h-8zM292 422h3v1h-3zM333 422h3v1h-3zM386 422h3v1h-3zM424 422h3v1h-3zM557 422h5v1h-5zM590 422h3v1h-3zM614 422h5v1h-5zM628 422h5v1h-5zM654 422h2v1h-2zM838 422h3v1h-3zM862 422h2v1h-2zM912 422h2v1h-2zM980 422h3v1h-3zM1026 422h5v1h-5zM1104 422h5v1h-5zM1124 422h3v1h-3zM100 423h3v1h-3zM168 423h3v1h-3zM233 423h3v1h-3zM271 423h3v1h-3zM287 423h7v1h-7zM334 423h2v1h-2zM385 423h3v1h-3zM425 423h2v1h-2zM556 423h4v1h-4zM591 423h2v1h-2zM609 423h8v1h-8zM630 423h12v1h-12zM653 423h3v1h-3zM839 423h2v1h-2zM861 423h3v1h-3zM912 423h3v1h-3zM980 423h2v1h-2zM1028 423h4v1h-4zM1101 423h6v1h-6zM1125 423h3v1h-3zM100 424h2v1h-2zM169 424h3v1h-3zM229 424h9v1h-9zM270 424h3v1h-3zM290 424h3v1h-3zM334 424h3v1h-3zM384 424h3v1h-3zM425 424h3v1h-3zM537 424h12v1h-12zM554 424h4v1h-4zM591 424h3v1h-3zM605 424h10v1h-10zM632 424h11v1h-11zM652 424h3v1h-3zM839 424h3v1h-3zM861 424h2v1h-2zM913 424h3v1h-3zM979 424h3v1h-3zM1030 424h2v1h-2zM1099 424h6v1h-6zM1126 424h3v1h-3zM99 425h3v1h-3zM170 425h3v1h-3zM227 425h7v1h-7zM235 425h5v1h-5zM269 425h3v1h-3zM335 425h3v1h-3zM383 425h3v1h-3zM426 425h3v1h-3zM536 425h21v1h-21zM592 425h3v1h-3zM604 425h6v1h-6zM641 425h4v1h-4zM651 425h3v1h-3zM840 425h3v1h-3zM860 425h3v1h-3zM914 425h2v1h-2zM978 425h3v1h-3zM1030 425h3v1h-3zM1096 425h6v1h-6zM1127 425h2v1h-2zM98 426h3v1h-3zM171 426h3v1h-3zM226 426h4v1h-4zM237 426h5v1h-5zM269 426h2v1h-2zM336 426h2v1h-2zM382 426h3v1h-3zM427 426h3v1h-3zM535 426h3v1h-3zM548 426h7v1h-7zM593 426h2v1h-2zM602 426h4v1h-4zM642 426h4v1h-4zM651 426h2v1h-2zM841 426h3v1h-3zM859 426h3v1h-3zM914 426h3v1h-3zM978 426h2v1h-2zM1031 426h2v1h-2zM1093 426h7v1h-7zM1127 426h3v1h-3zM98 427h2v1h-2zM172 427h2v1h-2zM225 427h3v1h-3zM239 427h5v1h-5zM268 427h3v1h-3zM336 427h3v1h-3zM381 427h3v1h-3zM428 427h2v1h-2zM535 427h2v1h-2zM593 427h3v1h-3zM601 427h4v1h-4zM644 427h3v1h-3zM650 427h3v1h-3zM842 427h2v1h-2zM859 427h2v1h-2zM915 427h2v1h-2zM977 427h3v1h-3zM1031 427h3v1h-3zM1091 427h6v1h-6zM1128 427h3v1h-3zM97 428h3v1h-3zM172 428h3v1h-3zM223 428h4v1h-4zM241 428h5v1h-5zM266 428h4v1h-4zM337 428h3v1h-3zM380 428h3v1h-3zM428 428h3v1h-3zM534 428h3v1h-3zM594 428h3v1h-3zM599 428h4v1h-4zM645 428h7v1h-7zM842 428h19v1h-19zM915 428h3v1h-3zM977 428h2v1h-2zM1032 428h2v1h-2zM1089 428h5v1h-5zM1129 428h3v1h-3zM96 429h3v1h-3zM173 429h3v1h-3zM222 429h4v1h-4zM243 429h5v1h-5zM262 429h7v1h-7zM338 429h3v1h-3zM379 429h3v1h-3zM429 429h3v1h-3zM533 429h3v1h-3zM595 429h7v1h-7zM646 429h5v1h-5zM843 429h17v1h-17zM916 429h2v1h-2zM976 429h3v1h-3zM1032 429h3v1h-3zM1089 429h3v1h-3zM1130 429h3v1h-3zM96 430h2v1h-2zM174 430h3v1h-3zM221 430h3v1h-3zM245 430h4v1h-4zM259 430h8v1h-8zM339 430h2v1h-2zM379 430h2v1h-2zM430 430h3v1h-3zM532 430h3v1h-3zM595 430h5v1h-5zM648 430h2v1h-2zM916 430h11v1h-11zM976 430h2v1h-2zM1033 430h2v1h-2zM1088 430h3v1h-3zM1131 430h3v1h-3zM95 431h3v1h-3zM175 431h2v1h-2zM220 431h3v1h-3zM247 431h3v1h-3zM257 431h6v1h-6zM339 431h3v1h-3zM378 431h3v1h-3zM431 431h3v1h-3zM532 431h2v1h-2zM596 431h2v1h-2zM917 431h11v1h-11zM975 431h3v1h-3zM1033 431h3v1h-3zM1088 431h2v1h-2zM1132 431h2v1h-2zM94 432h3v1h-3zM175 432h3v1h-3zM219 432h3v1h-3zM248 432h4v1h-4zM255 432h5v1h-5zM340 432h3v1h-3zM377 432h3v1h-3zM432 432h3v1h-3zM531 432h3v1h-3zM926 432h3v1h-3zM975 432h2v1h-2zM1034 432h2v1h-2zM1087 432h3v1h-3zM1132 432h3v1h-3zM94 433h2v1h-2zM176 433h3v1h-3zM218 433h3v1h-3zM249 433h9v1h-9zM341 433h3v1h-3zM376 433h3v1h-3zM433 433h3v1h-3zM530 433h3v1h-3zM927 433h3v1h-3zM974 433h3v1h-3zM1034 433h3v1h-3zM1087 433h2v1h-2zM1133 433h3v1h-3zM93 434h3v1h-3zM177 434h3v1h-3zM218 434h2v1h-2zM251 434h5v1h-5zM342 434h2v1h-2zM375 434h3v1h-3zM434 434h3v1h-3zM530 434h2v1h-2zM928 434h3v1h-3zM974 434h2v1h-2zM1035 434h2v1h-2zM1086 434h3v1h-3zM1134 434h2v1h-2zM93 435h2v1h-2zM178 435h3v1h-3zM217 435h3v1h-3zM252 435h2v1h-2zM342 435h3v1h-3zM375 435h2v1h-2zM435 435h3v1h-3zM529 435h3v1h-3zM929 435h3v1h-3zM973 435h3v1h-3zM1035 435h3v1h-3zM1086 435h2v1h-2zM1134 435h3v1h-3zM70 436h4v1h-4zM92 436h3v1h-3zM179 436h3v1h-3zM216 436h3v1h-3zM343 436h3v1h-3zM374 436h3v1h-3zM436 436h4v1h-4zM529 436h2v1h-2zM930 436h3v1h-3zM973 436h2v1h-2zM1036 436h2v1h-2zM1085 436h3v1h-3zM1135 436h2v1h-2zM68 437h8v1h-8zM91 437h3v1h-3zM180 437h2v1h-2zM215 437h3v1h-3zM344 437h3v1h-3zM373 437h3v1h-3zM437 437h4v1h-4zM528 437h3v1h-3zM931 437h3v1h-3zM973 437h2v1h-2zM1036 437h3v1h-3zM1085 437h2v1h-2zM1135 437h3v1h-3zM67 438h4v1h-4zM73 438h4v1h-4zM91 438h2v1h-2zM180 438h3v1h-3zM215 438h2v1h-2zM345 438h3v1h-3zM371 438h4v1h-4zM439 438h3v1h-3zM528 438h2v1h-2zM932 438h3v1h-3zM972 438h3v1h-3zM1037 438h3v1h-3zM1084 438h3v1h-3zM1136 438h2v1h-2zM65 439h4v1h-4zM75 439h3v1h-3zM90 439h3v1h-3zM181 439h3v1h-3zM214 439h3v1h-3zM346 439h2v1h-2zM369 439h5v1h-5zM440 439h3v1h-3zM527 439h3v1h-3zM933 439h3v1h-3zM972 439h2v1h-2zM1038 439h3v1h-3zM1084 439h2v1h-2zM1136 439h3v1h-3zM64 440h4v1h-4zM76 440h4v1h-4zM90 440h2v1h-2zM182 440h3v1h-3zM214 440h2v1h-2zM346 440h3v1h-3zM368 440h4v1h-4zM441 440h2v1h-2zM527 440h2v1h-2zM934 440h2v1h-2zM971 440h3v1h-3zM1039 440h3v1h-3zM1084 440h2v1h-2zM1137 440h2v1h-2zM63 441h3v1h-3zM77 441h5v1h-5zM89 441h3v1h-3zM183 441h3v1h-3zM214 441h2v1h-2zM347 441h3v1h-3zM366 441h4v1h-4zM441 441h3v1h-3zM526 441h3v1h-3zM934 441h3v1h-3zM971 441h2v1h-2zM1040 441h2v1h-2zM1083 441h3v1h-3zM1137 441h3v1h-3zM62 442h3v1h-3zM79 442h5v1h-5zM89 442h2v1h-2zM184 442h4v1h-4zM213 442h3v1h-3zM348 442h3v1h-3zM364 442h5v1h-5zM442 442h3v1h-3zM526 442h2v1h-2zM935 442h2v1h-2zM970 442h3v1h-3zM1040 442h3v1h-3zM1083 442h2v1h-2zM1138 442h2v1h-2zM61 443h3v1h-3zM81 443h5v1h-5zM87 443h4v1h-4zM185 443h5v1h-5zM213 443h2v1h-2zM349 443h2v1h-2zM363 443h4v1h-4zM443 443h2v1h-2zM525 443h3v1h-3zM935 443h3v1h-3zM970 443h2v1h-2zM1041 443h3v1h-3zM1082 443h3v1h-3zM1138 443h3v1h-3zM61 444h2v1h-2zM83 444h7v1h-7zM187 444h5v1h-5zM212 444h3v1h-3zM349 444h3v1h-3zM361 444h4v1h-4zM443 444h3v1h-3zM525 444h2v1h-2zM936 444h3v1h-3zM969 444h3v1h-3zM1042 444h3v1h-3zM1082 444h2v1h-2zM1139 444h2v1h-2zM60 445h3v1h-3zM85 445h3v1h-3zM189 445h5v1h-5zM212 445h2v1h-2zM350 445h6v1h-6zM359 445h5v1h-5zM444 445h2v1h-2zM524 445h3v1h-3zM937 445h2v1h-2zM969 445h2v1h-2zM1043 445h3v1h-3zM1081 445h3v1h-3zM1139 445h3v1h-3zM59 446h3v1h-3zM191 446h5v1h-5zM212 446h2v1h-2zM351 446h11v1h-11zM444 446h3v1h-3zM524 446h2v1h-2zM937 446h3v1h-3zM968 446h3v1h-3zM1044 446h4v1h-4zM1081 446h2v1h-2zM1140 446h2v1h-2zM58 447h3v1h-3zM193 447h4v1h-4zM211 447h3v1h-3zM355 447h5v1h-5zM445 447h3v1h-3zM524 447h2v1h-2zM938 447h2v1h-2zM968 447h2v1h-2zM1045 447h4v1h-4zM1080 447h3v1h-3zM1140 447h3v1h-3zM58 448h2v1h-2zM195 448h3v1h-3zM211 448h2v1h-2zM446 448h2v1h-2zM523 448h3v1h-3zM938 448h3v1h-3zM967 448h3v1h-3zM1047 448h4v1h-4zM1080 448h2v1h-2zM1141 448h3v1h-3zM196 449h4v1h-4zM210 449h3v1h-3zM446 449h3v1h-3zM523 449h2v1h-2zM939 449h2v1h-2zM966 449h3v1h-3zM1048 449h5v1h-5zM1079 449h3v1h-3zM1142 449h2v1h-2zM197 450h4v1h-4zM210 450h2v1h-2zM447 450h3v1h-3zM523 450h2v1h-2zM939 450h3v1h-3zM966 450h2v1h-2zM1050 450h4v1h-4zM1078 450h3v1h-3zM1142 450h3v1h-3zM199 451h3v1h-3zM209 451h3v1h-3zM448 451h3v1h-3zM522 451h3v1h-3zM940 451h3v1h-3zM965 451h3v1h-3zM1052 451h3v1h-3zM1078 451h2v1h-2zM1143 451h3v1h-3zM200 452h11v1h-11zM449 452h3v1h-3zM522 452h2v1h-2zM941 452h3v1h-3zM964 452h3v1h-3zM1053 452h2v1h-2zM1077 452h3v1h-3zM1144 452h3v1h-3zM201 453h10v1h-10zM450 453h3v1h-3zM522 453h2v1h-2zM942 453h3v1h-3zM963 453h3v1h-3zM1053 453h3v1h-3zM1077 453h2v1h-2zM1145 453h3v1h-3zM1160 453h6v1h-6zM451 454h2v1h-2zM521 454h3v1h-3zM943 454h3v1h-3zM963 454h2v1h-2zM1054 454h3v1h-3zM1076 454h3v1h-3zM1146 454h2v1h-2zM1155 454h15v1h-15zM451 455h3v1h-3zM521 455h2v1h-2zM944 455h2v1h-2zM958 455h7v1h-7zM1055 455h2v1h-2zM1075 455h3v1h-3zM1146 455h3v1h-3zM1150 455h11v1h-11zM1165 455h8v1h-8zM452 456h3v1h-3zM520 456h3v1h-3zM944 456h3v1h-3zM952 456h12v1h-12zM1055 456h3v1h-3zM1075 456h2v1h-2zM1147 456h9v1h-9zM1169 456h4v1h-4zM453 457h4v1h-4zM518 457h4v1h-4zM945 457h3v1h-3zM949 457h10v1h-10zM1056 457h3v1h-3zM1073 457h4v1h-4zM1148 457h3v1h-3zM454 458h5v1h-5zM517 458h4v1h-4zM946 458h7v1h-7zM1057 458h2v1h-2zM1070 458h6v1h-6zM456 459h5v1h-5zM516 459h3v1h-3zM947 459h3v1h-3zM1057 459h17v1h-17zM458 460h5v1h-5zM514 460h4v1h-4zM1058 460h13v1h-13zM460 461h5v1h-5zM488 461h13v1h-13zM512 461h5v1h-5zM462 462h4v1h-4zM484 462h19v1h-19zM507 462h8v1h-8zM464 463h4v1h-4zM481 463h8v1h-8zM500 463h13v1h-13zM465 464h20v1h-20zM502 464h6v1h-6zM467 465h15v1h-15z" fill="#ff0000" shape-rendering="crispEdges"/>
<path d="M739 403h16v1h-16zM735 404h25v1h-25zM699 405h12v1h-12zM732 405h8v1h-8zM754 405h9v1h-9zM691 406h45v1h-45zM759 406h6v1h-6zM686 407h14v1h-14zM710 407h23v1h-23zM762 407h4v1h-4zM801 407h9v1h-9zM683 408h9v1h-9zM764 408h4v1h-4zM798 408h14v1h-14zM145 409h13v1h-13zM681 409h6v1h-6zM765 409h5v1h-5zM794 409h8v1h-8zM809 409h6v1h-6zM141 410h19v1h-19zM321 410h8v1h-8zM678 410h6v1h-6zM767 410h7v1h-7zM791 410h8v1h-8zM811 410h7v1h-7zM138 411h8v1h-8zM157 411h6v1h-6zM317 411h14v1h-14zM675 411h7v1h-7zM769 411h26v1h-26zM814 411h6v1h-6zM901 411h5v1h-5zM135 412h7v1h-7zM159 412h6v1h-6zM314 412h8v1h-8zM328 412h4v1h-4zM673 412h6v1h-6zM773 412h19v1h-19zM817 412h14v1h-14zM894 412h14v1h-14zM133 413h6v1h-6zM162 413h5v1h-5zM312 413h6v1h-6zM330 413h3v1h-3zM671 413h5v1h-5zM819 413h14v1h-14zM888 413h14v1h-14zM905 413h5v1h-5zM1013 413h6v1h-6zM131 414h5v1h-5zM164 414h4v1h-4zM310 414h5v1h-5zM331 414h4v1h-4zM669 414h5v1h-5zM830 414h6v1h-6zM883 414h12v1h-12zM907 414h5v1h-5zM1009 414h15v1h-15zM129 415h5v1h-5zM166 415h4v1h-4zM308 415h5v1h-5zM332 415h4v1h-4zM667 415h5v1h-5zM832 415h6v1h-6zM881 415h8v1h-8zM909 415h4v1h-4zM1006 415h8v1h-8zM1018 415h8v1h-8zM127 416h5v1h-5zM167 416h5v1h-5zM306 416h5v1h-5zM334 416h4v1h-4zM665 416h5v1h-5zM835 416h5v1h-5zM879 416h5v1h-5zM911 416h4v1h-4zM1004 416h6v1h-6zM1023 416h6v1h-6zM126 417h4v1h-4zM169 417h4v1h-4zM304 417h5v1h-5zM335 417h4v1h-4zM664 417h4v1h-4zM837 417h5v1h-5zM877 417h5v1h-5zM912 417h4v1h-4zM1002 417h5v1h-5zM1025 417h6v1h-6zM124 418h4v1h-4zM171 418h3v1h-3zM302 418h5v1h-5zM337 418h3v1h-3zM662 418h4v1h-4zM839 418h4v1h-4zM875 418h5v1h-5zM914 418h3v1h-3zM1000 418h5v1h-5zM1028 418h4v1h-4zM123 419h4v1h-4zM172 419h3v1h-3zM300 419h5v1h-5zM338 419h3v1h-3zM408 419h17v1h-17zM661 419h4v1h-4zM841 419h4v1h-4zM872 419h6v1h-6zM915 419h4v1h-4zM999 419h4v1h-4zM1030 419h3v1h-3zM121 420h4v1h-4zM173 420h3v1h-3zM298 420h5v1h-5zM339 420h3v1h-3zM405 420h22v1h-22zM659 420h4v1h-4zM842 420h4v1h-4zM868 420h8v1h-8zM916 420h5v1h-5zM998 420h3v1h-3zM1031 420h4v1h-4zM120 421h4v1h-4zM174 421h4v1h-4zM296 421h5v1h-5zM340 421h3v1h-3zM402 421h7v1h-7zM424 421h5v1h-5zM578 421h12v1h-12zM658 421h4v1h-4zM844 421h4v1h-4zM865 421h8v1h-8zM918 421h5v1h-5zM996 421h4v1h-4zM1032 421h4v1h-4zM119 422h3v1h-3zM175 422h4v1h-4zM294 422h5v1h-5zM341 422h4v1h-4zM399 422h7v1h-7zM426 422h5v1h-5zM575 422h17v1h-17zM617 422h26v1h-26zM656 422h4v1h-4zM845 422h5v1h-5zM862 422h7v1h-7zM920 422h6v1h-6zM995 422h4v1h-4zM1034 422h3v1h-3zM117 423h4v1h-4zM177 423h3v1h-3zM292 423h5v1h-5zM342 423h4v1h-4zM396 423h7v1h-7zM428 423h5v1h-5zM573 423h6v1h-6zM589 423h5v1h-5zM613 423h32v1h-32zM654 423h5v1h-5zM847 423h8v1h-8zM860 423h6v1h-6zM922 423h6v1h-6zM994 423h3v1h-3zM1035 423h3v1h-3zM1119 423h9v1h-9zM116 424h4v1h-4zM178 424h3v1h-3zM277 424h18v1h-18zM344 424h3v1h-3zM394 424h6v1h-6zM430 424h4v1h-4zM570 424h6v1h-6zM591 424h27v1h-27zM642 424h6v1h-6zM650 424h7v1h-7zM849 424h14v1h-14zM925 424h4v1h-4zM993 424h3v1h-3zM1036 424h3v1h-3zM1117 424h14v1h-14zM115 425h3v1h-3zM179 425h3v1h-3zM275 425h18v1h-18zM345 425h3v1h-3zM393 425h4v1h-4zM432 425h4v1h-4zM567 425h7v1h-7zM593 425h21v1h-21zM644 425h11v1h-11zM854 425h7v1h-7zM927 425h3v1h-3zM992 425h3v1h-3zM1037 425h3v1h-3zM1115 425h5v1h-5zM1127 425h7v1h-7zM113 426h4v1h-4zM180 426h3v1h-3zM273 426h5v1h-5zM346 426h3v1h-3zM391 426h4v1h-4zM433 426h5v1h-5zM565 426h6v1h-6zM647 426h4v1h-4zM928 426h3v1h-3zM990 426h4v1h-4zM1038 426h3v1h-3zM1113 426h5v1h-5zM1130 426h6v1h-6zM112 427h4v1h-4zM181 427h3v1h-3zM242 427h4v1h-4zM271 427h5v1h-5zM347 427h3v1h-3zM390 427h4v1h-4zM435 427h4v1h-4zM563 427h5v1h-5zM929 427h3v1h-3zM989 427h4v1h-4zM1039 427h3v1h-3zM1111 427h5v1h-5zM1133 427h4v1h-4zM111 428h3v1h-3zM182 428h4v1h-4zM239 428h10v1h-10zM269 428h5v1h-5zM348 428h3v1h-3zM389 428h3v1h-3zM437 428h3v1h-3zM561 428h5v1h-5zM930 428h4v1h-4zM988 428h3v1h-3zM1040 428h3v1h-3zM1110 428h4v1h-4zM1135 428h3v1h-3zM109 429h4v1h-4zM183 429h4v1h-4zM236 429h7v1h-7zM245 429h27v1h-27zM349 429h3v1h-3zM388 429h3v1h-3zM438 429h4v1h-4zM559 429h5v1h-5zM931 429h4v1h-4zM987 429h3v1h-3zM1041 429h4v1h-4zM1108 429h4v1h-4zM1136 429h3v1h-3zM108 430h4v1h-4zM185 430h3v1h-3zM232 430h8v1h-8zM248 430h22v1h-22zM350 430h3v1h-3zM387 430h3v1h-3zM439 430h4v1h-4zM557 430h5v1h-5zM933 430h3v1h-3zM986 430h3v1h-3zM1042 430h4v1h-4zM1107 430h4v1h-4zM1137 430h3v1h-3zM106 431h4v1h-4zM186 431h3v1h-3zM230 431h7v1h-7zM351 431h4v1h-4zM385 431h4v1h-4zM441 431h3v1h-3zM554 431h6v1h-6zM934 431h3v1h-3zM985 431h3v1h-3zM1044 431h3v1h-3zM1105 431h4v1h-4zM1138 431h3v1h-3zM103 432h6v1h-6zM187 432h4v1h-4zM229 432h4v1h-4zM352 432h4v1h-4zM384 432h4v1h-4zM442 432h4v1h-4zM552 432h6v1h-6zM935 432h3v1h-3zM984 432h3v1h-3zM1045 432h3v1h-3zM1104 432h4v1h-4zM1139 432h3v1h-3zM101 433h6v1h-6zM188 433h4v1h-4zM228 433h3v1h-3zM354 433h3v1h-3zM382 433h4v1h-4zM443 433h4v1h-4zM549 433h6v1h-6zM936 433h3v1h-3zM983 433h3v1h-3zM1046 433h3v1h-3zM1103 433h3v1h-3zM1140 433h3v1h-3zM99 434h5v1h-5zM190 434h3v1h-3zM226 434h4v1h-4zM355 434h3v1h-3zM380 434h5v1h-5zM445 434h3v1h-3zM547 434h6v1h-6zM937 434h3v1h-3zM983 434h2v1h-2zM1047 434h3v1h-3zM1101 434h4v1h-4zM1141 434h3v1h-3zM58 435h16v1h-16zM97 435h5v1h-5zM191 435h4v1h-4zM225 435h4v1h-4zM356 435h3v1h-3zM377 435h6v1h-6zM446 435h3v1h-3zM545 435h5v1h-5zM938 435h3v1h-3zM982 435h3v1h-3zM1048 435h3v1h-3zM1100 435h4v1h-4zM1142 435h3v1h-3zM58 436h18v1h-18zM96 436h4v1h-4zM192 436h4v1h-4zM224 436h3v1h-3zM357 436h6v1h-6zM375 436h6v1h-6zM447 436h3v1h-3zM544 436h4v1h-4zM939 436h3v1h-3zM981 436h3v1h-3zM1049 436h3v1h-3zM1098 436h4v1h-4zM1143 436h3v1h-3zM73 437h6v1h-6zM94 437h4v1h-4zM194 437h4v1h-4zM223 437h3v1h-3zM358 437h20v1h-20zM448 437h3v1h-3zM542 437h4v1h-4zM940 437h3v1h-3zM980 437h3v1h-3zM1050 437h3v1h-3zM1096 437h5v1h-5zM1144 437h3v1h-3zM75 438h7v1h-7zM92 438h5v1h-5zM195 438h4v1h-4zM221 438h4v1h-4zM362 438h14v1h-14zM449 438h3v1h-3zM541 438h4v1h-4zM941 438h3v1h-3zM979 438h3v1h-3zM1051 438h3v1h-3zM1095 438h4v1h-4zM1145 438h3v1h-3zM78 439h8v1h-8zM89 439h6v1h-6zM197 439h4v1h-4zM219 439h5v1h-5zM450 439h3v1h-3zM540 439h3v1h-3zM942 439h3v1h-3zM978 439h3v1h-3zM1052 439h4v1h-4zM1093 439h4v1h-4zM1146 439h3v1h-3zM81 440h12v1h-12zM198 440h5v1h-5zM218 440h4v1h-4zM451 440h3v1h-3zM539 440h3v1h-3zM943 440h3v1h-3zM977 440h3v1h-3zM1053 440h4v1h-4zM1091 440h5v1h-5zM1147 440h3v1h-3zM85 441h5v1h-5zM200 441h5v1h-5zM216 441h4v1h-4zM452 441h3v1h-3zM537 441h4v1h-4zM944 441h3v1h-3zM976 441h3v1h-3zM1055 441h3v1h-3zM1090 441h4v1h-4zM1148 441h3v1h-3zM202 442h7v1h-7zM212 442h7v1h-7zM453 442h3v1h-3zM536 442h4v1h-4zM945 442h3v1h-3zM975 442h3v1h-3zM1056 442h3v1h-3zM1089 442h3v1h-3zM1149 442h4v1h-4zM204 443h13v1h-13zM454 443h3v1h-3zM535 443h3v1h-3zM946 443h4v1h-4zM975 443h2v1h-2zM1057 443h3v1h-3zM1088 443h3v1h-3zM1150 443h5v1h-5zM208 444h5v1h-5zM455 444h3v1h-3zM534 444h3v1h-3zM947 444h5v1h-5zM974 444h3v1h-3zM1058 444h3v1h-3zM1087 444h3v1h-3zM1152 444h5v1h-5zM456 445h4v1h-4zM533 445h3v1h-3zM949 445h4v1h-4zM973 445h3v1h-3zM1059 445h3v1h-3zM1086 445h3v1h-3zM1154 445h5v1h-5zM457 446h4v1h-4zM532 446h3v1h-3zM951 446h4v1h-4zM972 446h3v1h-3zM1060 446h4v1h-4zM1086 446h2v1h-2zM1156 446h7v1h-7zM459 447h3v1h-3zM531 447h3v1h-3zM952 447h5v1h-5zM971 447h3v1h-3zM1061 447h4v1h-4zM1085 447h3v1h-3zM1158 447h9v1h-9zM460 448h3v1h-3zM531 448h2v1h-2zM954 448h6v1h-6zM966 448h7v1h-7zM1063 448h3v1h-3zM1084 448h3v1h-3zM1162 448h7v1h-7zM461 449h4v1h-4zM530 449h3v1h-3zM956 449h16v1h-16zM1064 449h4v1h-4zM1083 449h3v1h-3zM1166 449h5v1h-5zM462 450h4v1h-4zM529 450h3v1h-3zM959 450h8v1h-8zM1065 450h5v1h-5zM1081 450h4v1h-4zM1168 450h5v1h-5zM464 451h3v1h-3zM528 451h3v1h-3zM1067 451h7v1h-7zM1077 451h7v1h-7zM1170 451h3v1h-3zM465 452h4v1h-4zM527 452h3v1h-3zM1069 452h13v1h-13zM466 453h4v1h-4zM526 453h3v1h-3zM1073 453h5v1h-5zM468 454h4v1h-4zM525 454h3v1h-3zM469 455h5v1h-5zM524 455h3v1h-3zM471 456h7v1h-7zM523 456h3v1h-3zM473 457h9v1h-9zM522 457h3v1h-3zM477 458h9v1h-9zM521 458h3v1h-3zM481 459h13v1h-13zM519 459h4v1h-4zM485 460h23v1h-23zM516 460h6v1h-6zM493 461h27v1h-27zM507 462h10v1h-10z" fill="#0000ff" shape-rendering="crispEdges"/>
<rect x="49.5" y="395.5" width="1148" height="84" fill="none" stroke="#c80000" stroke-width="1" shape-rendering="crispEdges"/>
<g shape-rendering="crispEdges">
<rect x="66.00" y="481.00" width="1.00" height="2.00" fill="#c80000"/>
<rect x="73.00" y="481.00" width="1.00" height="2.00" fill="#c80000"/>
<rect x="81.00" y="481.00" width="1.00" height="2.00" fill="#c80000"/>
<rect x="88.00" y="481.00" width="1.00" height="2.00" fill="#c80000"/>
<rect x="96.00" y="481.00" width="1.00" height="2.00" fill="#c80000"/>
<rect x="103.00" y="481.00" width="1.00" height="2.00" fill="#c80000"/>
<rect x="111.00" y="481.00" width="1.00" height="2.00" fill="#c80000"/>
<rect x="118.00" y="481.00" width="1.00" height="2.00" fill="#c80000"/>
<rect x="126.00" y="481.00" width="1.00" height="2.00" fill="#c80000"/>
<rect x="133.00" y="481.00" width="1.00" height="2.00" fill="#c80000"/>
<rect x="141.00" y="481.00" width="1.00" height="2.00" fill="#c80000"/>
<rect x="148.00" y="481.00" width="1.00" height="2.00" fill="#c80000"/>
<rect x="156.00" y="481.00" width="1.00" height="2.00" fill="#c80000"/>
<rect x="163.00" y="481.00" width="1.00" height="2.00" fill="#c80000"/>
<rect x="171.00" y="481.00" width="1.00" height="2.00" fill="#c80000"/>
<rect x="178.00" y="481.00" width="1.00" height="2.00" fill="#c80000"/>
<rect x="185.00" y="481.00" width="1.00" height="2.00" fill="#c80000"/>
<rect x="193.00" y="481.00" width="1.00" height="2.00" fill="#c80000"/>
<rect x="200.00" y="481.00" width="1.00" height="2.00" fill="#c80000"/>
<rect x="208.00" y="481.00" width="1.00" height="2.00" fill="#c80000"/>
<rect x="215.00" y="481.00" width="1.00" height="2.00" fill="#c80000"/>
<rect x="223.00" y="481.00" width="1.00" height="2.00" fill="#c80000"/>
<rect x="230.00" y="481.00" width="1.00" height="2.00" fill="#c80000"/>
<rect x="238.00" y="481.00" width="1.00" height="2.00" fill="#c80000"/>
<rect x="245.00" y="481.00" width="1.00" height="2.00" fill="#c80000"/>
<rect x="253.00" y="481.00" width="1.00" height="2.00" fill="#c80000"/>
<rect x="260.00" y="481.00" width="1.00" height="2.00" fill="#c80000"/>
<rect x="268.00" y="481.00" width="1.00" height="2.00" fill="#c80000"/>
<rect x="275.00" y="481.00" width="1.00" height="2.00" fill="#c80000"/>
<rect x="283.00" y="481.00" width="1.00" height="2.00" fill="#c80000"/>
<rect x="290.00" y="481.00" width="1.00" height="2.00" fill="#c80000"/>
<rect x="298.00" y="481.00" width="1.00" height="2.00" fill="#c80000"/>
<rect x="305.00" y="481.00" width="1.00" height="2.00" fill="#c80000"/>
<rect x="312.00" y="481.00" width="1.00" height="2.00" fill="#c80000"/>
<rect x="320.00" y="481.00" width="1.00" height="2.00" fill="#c80000"/>
<rect x="327.00" y="481.00" width="1.00" height="2.00" fill="#c80000"/>
<rect x="335.00" y="481.00" width="1.00" height="2.00" fill="#c80000"/>
<rect x="342.00" y="481.00" width="1.00" height="2.00" fill="#c80000"/>
<rect x="350.00" y="481.00" width="1.00" height="2.00" fill="#c80000"/>
<rect x="357.00" y="481.00" width="1.00" height="2.00" fill="#c80000"/>
<rect x="365.00" y="481.00" width="1.00" height="2.00" fill="#c80000"/>
<rect x="372.00" y="481.00" width="1.00" height="2.00" fill="#c80000"/>
<rect x="380.00" y="481.00" width="1.00" height="2.00" fill="#c80000"/>
<rect x="387.00" y="481.00" width="1.00" height="2.00" fill="#c80000"/>
<rect x="395.00" y="481.00" width="1.00" height="2.00" fill="#c80000"/>
<rect x="402.00" y="481.00" width="1.00" height="2.00" fill="#c80000"/>
<rect x="410.00" y="481.00" width="1.00" height="2.00" fill="#c80000"/>
<rect x="417.00" y="481.00" width="1.00" height="2.00" fill="#c80000"/>
<rect x="425.00" y="481.00" width="1.00" height="2.00" fill="#c80000"/>
<rect x="432.00" y="481.00" width="1.00" height="2.00" fill="#c80000"/>
<rect x="439.00" y="481.00" width="1.00" height="2.00" fill="#c80000"/>
<rect x="447.00" y="481.00" width="1.00" height="2.00" fill="#c80000"/>
<rect x="454.00" y="481.00" width="1.00" height="2.00" fill="#c80000"/>
<rect x="462.00" y="481.00" width="1.00" height="2.00" fill="#c80000"/>
<rect x="469.00" y="481.00" width="1.00" height="2.00" fill="#c80000"/>
<rect x="477.00" y="481.00" width="1.00" height="2.00" fill="#c80000"/>
<rect x="484.00" y="481.00" width="1.00" height="2.00" fill="#c80000"/>
<rect x="492.00" y="481.00" width="1.00" height="2.00" fill="#c80000"/>
<rect x="499.00" y="481.00" width="1.00" height="2.00" fill="#c80000"/>
<rect x="507.00" y="481.00" width="1.00" height="2.00" fill="#c80000"/>
<rect x="514.00" y="481.00" width="1.00" height="2.00" fill="#c80000"/>
<rect x="522.00" y="481.00" width="1.00" height="2.00" fill="#c80000"/>
<rect x="529.00" y="481.00" width="1.00" height="2.00" fill="#c80000"/>
<rect x="537.00" y="481.00" width="1.00" height="2.00" fill="#c80000"/>
<rect x="544.00" y="481.00" width="1.00" height="2.00" fill="#c80000"/>
<rect x="552.00" y="481.00" width="1.00" height="2.00" fill="#c80000"/>
<rect x="559.00" y="481.00" width="1.00" height="2.00" fill="#c80000"/>
<rect x="566.00" y="481.00" width="1.00" height="2.00" fill="#c80000"/>
<rect x="574.00" y="481.00" width="1.00" height="2.00" fill="#c80000"/>
<rect x="581.00" y="481.00" width="1.00" height="2.00" fill="#c80000"/>
<rect x="589.00" y="481.00" width="1.00" height="2.00" fill="#c80000"/>
<rect x="596.00" y="481.00" width="1.00" height="2.00" fill="#c80000"/>
<rect x="604.00" y="481.00" width="1.00" height="2.00" fill="#c80000"/>
<rect x="611.00" y="481.00" width="1.00" height="2.00" fill="#c80000"/>
<rect x="619.00" y="481.00" width="1.00" height="2.00" fill="#c80000"/>
<rect x="626.00" y="481.00" width="1.00" height="2.00" fill="#c80000"/>
<rect x="634.00" y="481.00" width="1.00" height="2.00" fill="#c80000"/>
<rect x="641.00" y="481.00" width="1.00" height="2.00" fill="#c80000"/>
<rect x="649.00" y="481.00" width="1.00" height="2.00" fill="#c80000"/>
<rect x="656.00" y="481.00" width="1.00" height="2.00" fill="#c80000"/>
<rect x="664.00" y="481.00" width="1.00" height="2.00" fill="#c80000"/>
<rect x="671.00" y="481.00" width="1.00" height="2.00" fill="#c80000"/>
<rect x="678.00" y="481.00" width="1.00" height="2.00" fill="#c80000"/>
<rect x="686.00" y="481.00" width="1.00" height="2.00" fill="#c80000"/>
<rect x="693.00" y="481.00" width="1.00" height="2.00" fill="#c80000"/>
<rect x="701.00" y="481.00" width="1.00" height="2.00" fill="#c80000"/>
<rect x="708.00" y="481.00" width="1.00" height="2.00" fill="#c80000"/>
<rect x="716.00" y="481.00" width="1.00" height="2.00" fill="#c80000"/>
<rect x="723.00" y="481.00" width="1.00" height="2.00" fill="#c80000"/>
<rect x="731.00" y="481.00" width="1.00" height="2.00" fill="#c80000"/>
<rect x="738.00" y="481.00" width="1.00" height="2.00" fill="#c80000"/>
<rect x="746.00" y="481.00" width="1.00" height="2.00" fill="#c80000"/>
<rect x="753.00" y="481.00" width="1.00" height="2.00" fill="#c80000"/>
<rect x="761.00" y="481.00" width="1.00" height="2.00" fill="#c80000"/>
<rect x="768.00" y="481.00" width="1.00" height="2.00" fill="#c80000"/>
<rect x="776.00" y="481.00" width="1.00" height="2.00" fill="#c80000"/>
<rect x="783.00" y="481.00" width="1.00" height="2.00" fill="#c80000"/>
<rect x="791.00" y="481.00" width="1.00" height="2.00" fill="#c80000"/>
<rect x="798.00" y="481.00" width="1.00" height="2.00" fill="#c80000"/>
<rect x="805.00" y="481.00" width="1.00" height="2.00" fill="#c80000"/>
<rect x="813.00" y="481.00" width="1.00" height="2.00" fill="#c80000"/>
<rect x="820.00" y="481.00" width="1.00" height="2.00" fill="#c80000"/>
<rect x="828.00" y="481.00" width="1.00" height="2.00" fill="#c80000"/>
<rect x="835.00" y="481.00" width="1.00" height="2.00" fill="#c80000"/>
<rect x="843.00" y="481.00" width="1.00" height="2.00" fill="#c80000"/>
<rect x="850.00" y="481.00" width="1.00" height="2.00" fill="#c80000"/>
<rect x="858.00" y="481.00" width="1.00" height="2.00" fill="#c80000"/>
<rect x="865.00" y="481.00" width="1.00" height="2.00" fill="#c80000"/>
<rect x="873.00" y="481.00" width="1.00" height="2.00" fill="#c80000"/>
<rect x="880.00" y="481.00" width="1.00" height="2.00" fill="#c80000"/>
<rect x="888.00" y="481.00" width="1.00" height="2.00" fill="#c80000"/>
<rect x="895.00" y="481.00" width="1.00" height="2.00" fill="#c80000"/>
<rect x="903.00" y="481.00" width="1.00" height="2.00" fill="#c80000"/>
<rect x="910.00" y="481.00" width="1.00" height="2.00" fill="#c80000"/>
<rect x="918.00" y="481.00" width="1.00" height="2.00" fill="#c80000"/>
<rect x="925.00" y="481.00" width="1.00" height="2.00" fill="#c80000"/>
<rect x="932.00" y="481.00" width="1.00" height="2.00" fill="#c80000"/>
<rect x="940.00" y="481.00" width="1.00" height="2.00" fill="#c80000"/>
<rect x="947.00" y="481.00" width="1.00" height="2.00" fill="#c80000"/>
<rect x="955.00" y="481.00" width="1.00" height="2.00" fill="#c80000"/>
<rect x="962.00" y="481.00" width="1.00" height="2.00" fill="#c80000"/>
<rect x="970.00" y="481.00" width="1.00" height="2.00" fill="#c80000"/>
<rect x="977.00" y="481.00" width="1.00" height="2.00" fill="#c80000"/>
<rect x="985.00" y="481.00" width="1.00" height="2.00" fill="#c80000"/>
<rect x="992.00" y="481.00" width="1.00" height="2.00" fill="#c80000"/>
<rect x="1000.00" y="481.00" width="1.00" height="2.00" fill="#c80000"/>
<rect x="1007.00" y="481.00" width="1.00" height="2.00" fill="#c80000"/>
<rect x="1015.00" y="481.00" width="1.00" height="2.00" fill="#c80000"/>
<rect x="1022.00" y="481.00" width="1.00" height="2.00" fill="#c80000"/>
<rect x="1030.00" y="481.00" width="1.00" height="2.00" fill="#c80000"/>
<rect x="1037.00" y="481.00" width="1.00" height="2.00" fill="#c80000"/>
<rect x="1045.00" y="481.00" width="1.00" height="2.00" fill="#c80000"/>
<rect x="1052.00" y="481.00" width="1.00" height="2.00" fill="#c80000"/>
<rect x="1059.00" y="481.00" width="1.00" height="2.00" fill="#c80000"/>
<rect x="1067.00" y="481.00" width="1.00" height="2.00" fill="#c80000"/>
<rect x="1074.00" y="481.00" width="1.00" height="2.00" fill="#c80000"/>
<rect x="1082.00" y="481.00" width="1.00" height="2.00" fill="#c80000"/>
<rect x="1089.00" y="481.00" width="1.00" height="2.00" fill="#c80000"/>
<rect x="1097.00" y="481.00" width="1.00" height="2.00" fill="#c80000"/>
<rect x="1104.00" y="481.00" width="1.00" height="2.00" fill="#c80000"/>
<rect x="1112.00" y="481.00" width="1.00" height="2.00" fill="#c80000"/>
<rect x="1119.00" y="481.00" width="1.00" height="2.00" fill="#c80000"/>
<rect x="1127.00" y="481.00" width="1.00" height="2.00" fill="#c80000"/>
<rect x="1134.00" y="481.00" width="1.00" height="2.00" fill="#c80000"/>
<rect x="1142.00" y="481.00" width="1.00" height="2.00" fill="#c80000"/>
<rect x="1149.00" y="481.00" width="1.00" height="2.00" fill="#c80000"/>
<rect x="1157.00" y="481.00" width="1.00" height="2.00" fill="#c80000"/>
<rect x="1164.00" y="481.00" width="1.00" height="2.00" fill="#c80000"/>
<rect x="1172.00" y="481.00" width="1.00" height="2.00" fill="#c80000"/>
</g>
<rect x="52.5" y="30.5" width="201" height="65" fill="#fff" stroke="#ececec" stroke-width="1" shape-rendering="crispEdges"/>
<rect x="51.5" y="306.5" width="205" height="49" fill="#fff" stroke="#ececec" stroke-width="1" shape-rendering="crispEdges"/>
<rect x="52.5" y="396.5" width="195" height="35" fill="#fff" stroke="#ececec" stroke-width="1" shape-rendering="crispEdges"/>
<g filter="url(#cr)">
<text transform="translate(2,16) skewX(0.05)" textLength="64.0" lengthAdjust="spacingAndGlyphs" font-size="13.2" fill="#000044" font-weight="bold">2026/04/23</text>
<text transform="translate(84,16) skewX(0.05)" textLength="23.0" lengthAdjust="spacingAndGlyphs" font-size="13.2" fill="#000044">2337</text>
<text transform="translate(302.2,16) skewX(0.05)" textLength="20.1" lengthAdjust="spacingAndGlyphs" font-size="13.2" fill="#ff0000" font-weight="bold">140</text>
<text transform="translate(430.2,16) skewX(0.05)" textLength="30.8" lengthAdjust="spacingAndGlyphs" font-size="13.2" fill="#ff0000" font-weight="bold">144.5</text>
<text transform="translate(558.2,16) skewX(0.05)" textLength="19.8" lengthAdjust="spacingAndGlyphs" font-size="13.2" fill="#008000" font-weight="bold">124</text>
<text transform="translate(686.2,16) skewX(0.05)" textLength="20.1" lengthAdjust="spacingAndGlyphs" font-size="13.2" fill="#008000" font-weight="bold">126</text>
<path d="M800.3 8H807.7L804 15Z" fill="none" stroke="#008000" stroke-width="1.6"/>
<text transform="translate(811,16) skewX(0.05)" textLength="22.2" lengthAdjust="spacingAndGlyphs" font-size="13.2" fill="#008000" font-weight="bold" font-family="'Liberation Sans',sans-serif">-8.5</text>
<text transform="translate(904.4,16) skewX(0.05)" textLength="40.9" lengthAdjust="spacingAndGlyphs" font-size="12.4" fill="#000044" font-family="'Liberation Sans',sans-serif">(-6.32%)</text>
<text transform="translate(1014.6,16) skewX(0.05)" textLength="35.4" lengthAdjust="spacingAndGlyphs" font-size="13.2" fill="#000044">218743</text>
<path d="M1056.5 6.5V18M1054.0 9.5L1056.5 7.0L1059.0 9.5" stroke="#000044" stroke-width="1" fill="none"/>
<text transform="translate(24.900000000000002,33) skewX(0.05)" textLength="18.5" lengthAdjust="spacingAndGlyphs" font-size="14.8" fill="#000044">170</text>
<text transform="translate(24.900000000000002,68) skewX(0.05)" textLength="18.5" lengthAdjust="spacingAndGlyphs" font-size="14.8" fill="#000044">150</text>
<text transform="translate(24.900000000000002,103) skewX(0.05)" textLength="18.5" lengthAdjust="spacingAndGlyphs" font-size="14.8" fill="#000044">130</text>
<text transform="translate(24.900000000000002,138) skewX(0.05)" textLength="18.5" lengthAdjust="spacingAndGlyphs" font-size="14.8" fill="#000044">110</text>
<text transform="translate(30.700000000000003,172) skewX(0.05)" textLength="12.7" lengthAdjust="spacingAndGlyphs" font-size="14.8" fill="#000044">90</text>
<text transform="translate(30.700000000000003,207) skewX(0.05)" textLength="12.7" lengthAdjust="spacingAndGlyphs" font-size="14.8" fill="#000044">70</text>
<text transform="translate(30.700000000000003,242) skewX(0.05)" textLength="12.7" lengthAdjust="spacingAndGlyphs" font-size="14.8" fill="#000044">50</text>
<text transform="translate(30.700000000000003,277) skewX(0.05)" textLength="12.7" lengthAdjust="spacingAndGlyphs" font-size="14.8" fill="#000044">30</text>
<text transform="translate(7.7,335.4) skewX(0.05)" textLength="35.9" lengthAdjust="spacingAndGlyphs" font-size="14.8" fill="#000044">500000</text>
<text transform="translate(7.7,357.4) skewX(0.05)" textLength="35.9" lengthAdjust="spacingAndGlyphs" font-size="14.8" fill="#000044">300000</text>
<text transform="translate(7.7,380.4) skewX(0.05)" textLength="35.9" lengthAdjust="spacingAndGlyphs" font-size="14.8" fill="#000044">100000</text>
<text transform="translate(30.3,425.6) skewX(0.05)" textLength="13.0" lengthAdjust="spacingAndGlyphs" font-size="14.8" fill="#000044">70</text>
<text transform="translate(30.3,450.6) skewX(0.05)" textLength="13.0" lengthAdjust="spacingAndGlyphs" font-size="14.8" fill="#000044">40</text>
<text transform="translate(56.5,44) skewX(0.05)" textLength="16.6" lengthAdjust="spacingAndGlyphs" font-size="14.8" fill="#ff0000">M5</text>
<text transform="translate(205.8,44) skewX(0.05)" textLength="28.2" lengthAdjust="spacingAndGlyphs" font-size="14.8" fill="#ff0000">128.9</text>
<path d="M239.5 33.5V44.5M237.0 41.5L239.5 44.0L242.0 41.5" stroke="#ff0000" stroke-width="1" fill="none"/>
<text transform="translate(56.5,60) skewX(0.05)" textLength="23.6" lengthAdjust="spacingAndGlyphs" font-size="14.8" fill="#0000ff">M10</text>
<text transform="translate(205.8,60) skewX(0.05)" textLength="33.4" lengthAdjust="spacingAndGlyphs" font-size="14.8" fill="#0000ff">137.45</text>
<path d="M245.5 49.5V60.5M243.0 57.5L245.5 60.0L248.0 57.5" stroke="#0000ff" stroke-width="1" fill="none"/>
<text transform="translate(56.5,76) skewX(0.05)" textLength="23.6" lengthAdjust="spacingAndGlyphs" font-size="14.8" fill="#00b400">M20</text>
<text transform="translate(205.8,76) skewX(0.05)" textLength="33.4" lengthAdjust="spacingAndGlyphs" font-size="14.8" fill="#00b400">134.88</text>
<path d="M245.5 65.5V76.5M243.0 73.5L245.5 76.0L248.0 73.5" stroke="#00b400" stroke-width="1" fill="none"/>
<text transform="translate(56.5,92) skewX(0.05)" textLength="23.6" lengthAdjust="spacingAndGlyphs" font-size="14.8" fill="#ff8000">M60</text>
<text transform="translate(205.8,92) skewX(0.05)" textLength="33.4" lengthAdjust="spacingAndGlyphs" font-size="14.8" fill="#ff8000">111.76</text>
<path d="M245.5 81.5V92.5M243.0 84.5L245.5 82.0L248.0 84.5" stroke="#ff8000" stroke-width="1" fill="none"/>
<text transform="translate(57.0,320) skewX(0.05)" textLength="26.1" lengthAdjust="spacingAndGlyphs" font-size="14.8" fill="#000044">VOL</text>
<text transform="translate(205.2,320) skewX(0.05)" textLength="37.3" lengthAdjust="spacingAndGlyphs" font-size="14.8" fill="#000044">218743</text>
<path d="M248.5 309.5V320.5M246.0 312.5L248.5 310.0L251.0 312.5" stroke="#000044" stroke-width="1" fill="none"/>
<text transform="translate(57.0,336) skewX(0.05)" textLength="5.8" lengthAdjust="spacingAndGlyphs" font-size="14.8" fill="#ff0000">5</text>
<text transform="translate(205.2,336) skewX(0.05)" textLength="37.3" lengthAdjust="spacingAndGlyphs" font-size="14.8" fill="#ff0000">161569</text>
<path d="M248.5 325.5V336.5M246.0 328.5L248.5 326.0L251.0 328.5" stroke="#ff0000" stroke-width="1" fill="none"/>
<text transform="translate(57.0,352) skewX(0.05)" textLength="13.2" lengthAdjust="spacingAndGlyphs" font-size="14.8" fill="#0000ff">10</text>
<text transform="translate(205.2,352) skewX(0.05)" textLength="37.3" lengthAdjust="spacingAndGlyphs" font-size="14.8" fill="#0000ff">176957</text>
<path d="M248.5 341.5V352.5M246.0 344.5L248.5 342.0L251.0 344.5" stroke="#0000ff" stroke-width="1" fill="none"/>
<text transform="translate(57.8,412) skewX(0.05)" textLength="17.2" lengthAdjust="spacingAndGlyphs" font-size="14.8" fill="#ff0000">K 9</text>
<text transform="translate(206,412) skewX(0.05)" textLength="27.1" lengthAdjust="spacingAndGlyphs" font-size="14.8" fill="#ff0000">27.25</text>
<path d="M239.5 401.5V412.5M237.0 409.5L239.5 412.0L242.0 409.5" stroke="#ff0000" stroke-width="1" fill="none"/>
<text transform="translate(57.8,428) skewX(0.05)" textLength="17.2" lengthAdjust="spacingAndGlyphs" font-size="14.8" fill="#0000ff">D 9</text>
<text transform="translate(206,428) skewX(0.05)" textLength="20.6" lengthAdjust="spacingAndGlyphs" font-size="14.8" fill="#0000ff">33.8</text>
<path d="M233.5 417.5V428.5M231.0 425.5L233.5 428.0L236.0 425.5" stroke="#0000ff" stroke-width="1" fill="none"/>
<text transform="translate(186.6,500.7) skewX(0.05)" textLength="12.3" lengthAdjust="spacingAndGlyphs" font-size="14.5" fill="#000044">10</text>
<text transform="translate(335.6,500.7) skewX(0.05)" textLength="12.3" lengthAdjust="spacingAndGlyphs" font-size="14.5" fill="#000044">11</text>
<text transform="translate(485.6,500.7) skewX(0.05)" textLength="12.3" lengthAdjust="spacingAndGlyphs" font-size="14.5" fill="#000044">12</text>
<text transform="translate(649.6,500.7) skewX(0.05)" textLength="12.3" lengthAdjust="spacingAndGlyphs" font-size="14.5" fill="#000044">01</text>
<text transform="translate(806.6,500.7) skewX(0.05)" textLength="12.3" lengthAdjust="spacingAndGlyphs" font-size="14.5" fill="#000044">02</text>
<text transform="translate(896.6,500.7) skewX(0.05)" textLength="12.3" lengthAdjust="spacingAndGlyphs" font-size="14.5" fill="#000044">03</text>
<text transform="translate(1060.6,500.7) skewX(0.05)" textLength="12.3" lengthAdjust="spacingAndGlyphs" font-size="14.5" fill="#000044">04</text>
<text transform="translate(643.3,513.9) skewX(0.05)" textLength="25.6" lengthAdjust="spacingAndGlyphs" font-size="14.5" fill="#000044">2026</text>
</g>
<g font-family="'Liberation Sans','Noto Sans CJK TC',sans-serif" font-size="11.5" fill="#000044"><text x="110.3 122.3" y="15.89">旺宏</text><text x="284.7" y="15.89">開</text><text x="412.7" y="15.89">高</text><text x="540.7" y="15.89">低</text><text x="668.7" y="15.89">收</text><text x="997.7" y="15.89">量</text><text x="1062.7" y="15.89">張</text><text x="1160.5 1171.8" y="15.89">日線</text></g>
<rect x="0" y="491" width="38" height="13" fill="#0000f8"/>
<g filter="url(#cw)"><text transform="translate(-3.6,501.8) skewX(0.05)" font-size="11.8" fill="#fff" font-family="'Liberation Sans',sans-serif" textLength="40.4" lengthAdjust="spacingAndGlyphs">CMoney</text></g>
<g shape-rendering="crispEdges">
<rect x="0" y="516" width="42" height="3" fill="#46628e"/>
<rect x="42" y="516" width="12" height="3" fill="#c8c8c8"/>
<rect x="54" y="516" width="180" height="3" fill="#3c3c3c"/>
<rect x="234" y="516" width="18" height="3" fill="#b4b4b4"/>
<rect x="252" y="516" width="86" height="3" fill="#9a9a9a"/>
<rect x="338" y="516" width="9" height="3" fill="#c8c8c8"/>
<rect x="347" y="516" width="1" height="3" fill="#202020"/>
<rect x="348" y="516" width="25" height="3" fill="#d8d8d8"/>
<path d="M0 514h1v1h2v1h-3z" fill="#fff"/>
<rect x="373" y="516" width="827" height="1" fill="#b8b8b8"/>
<path d="M376 517h7v1h-7zM377 518h1v1h-1zM381 518h1v1h-1zM388 517h8v1h-8zM389 518h1v1h-1zM393 518h1v1h-1zM400 517h7v1h-7zM403 518h1v1h-1zM408 518h1v1h-1zM424 517h4v1h-4zM429 517h5v1h-5zM425 518h1v1h-1zM431 518h1v1h-1zM439 517h1v2h-1zM436 518h10v1h-10zM448 517h8v1h-8zM449 518h1v1h-1zM454 518h1v1h-1zM460 517h7v1h-7zM463 518h1v1h-1zM467 518h1v1h-1zM475 517h1v2h-1zM472 518h10v1h-10zM484 517h7v1h-7zM487 518h1v1h-1zM489 518h1v1h-1zM500 517h1v2h-1zM496 518h10v1h-10zM512 517h1v2h-1zM508 518h10v1h-10zM520 517h8v1h-8zM521 518h1v1h-1zM526 518h1v1h-1zM544 517h9v1h-9zM547 518h1v1h-1zM552 518h1v1h-1zM556 517h4v1h-4zM561 517h5v1h-5zM557 518h1v1h-1zM563 518h1v1h-1zM583 517h1v2h-1zM580 518h9v1h-10zM592 517h4v1h-4zM597 517h5v1h-5zM593 518h1v1h-1zM599 518h1v1h-1zM620 517h1v2h-1zM616 518h9v1h-10zM633 517h1v2h-1zM628 518h9v1h-10zM667 517h1v2h-1zM664 518h8v1h-10zM676 517h10v1h-10zM678 518h1v1h-1zM684 518h1v1h-1zM688 517h10v1h-10zM690 518h1v1h-1zM694 518h1v1h-1zM700 517h8v1h-8zM702 518h1v1h-1zM706 518h1v1h-1zM712 517h10v1h-10zM713 518h1v1h-1zM718 518h1v1h-1zM727 517h1v2h-1zM724 518h9v1h-10zM736 517h10v1h-10zM738 518h1v1h-1zM744 518h1v1h-1zM748 517h8v1h-8zM749 518h1v1h-1zM754 518h1v1h-1zM760 517h8v1h-8zM762 518h1v1h-1zM767 518h1v1h-1zM784 517h9v1h-9zM785 518h1v1h-1zM789 518h1v1h-1zM796 517h4v1h-4zM801 517h5v1h-5zM797 518h1v1h-1zM803 518h1v1h-1zM813 517h1v2h-1zM808 518h9v1h-10zM820 517h10v1h-10zM823 518h1v1h-1zM828 518h1v1h-1zM856 517h9v1h-9zM859 518h1v1h-1zM861 518h1v1h-1zM884 517h1v2h-1zM880 518h10v1h-10zM907 517h1v2h-1zM904 518h10v1h-10zM916 517h9v1h-9zM918 518h1v1h-1zM921 518h1v1h-1zM940 517h4v1h-4zM945 517h5v1h-5zM941 518h1v1h-1zM947 518h1v1h-1zM952 517h8v1h-8zM953 518h1v1h-1zM959 518h1v1h-1zM964 517h8v1h-8zM967 518h1v1h-1zM969 518h1v1h-1zM976 517h4v1h-4zM981 517h5v1h-5zM977 518h1v1h-1zM983 518h1v1h-1zM991 517h1v2h-1zM988 518h10v1h-10zM1003 517h1v2h-1zM1000 518h10v1h-10zM1015 517h1v2h-1zM1012 518h9v1h-10zM1029 517h1v2h-1zM1024 518h9v1h-10zM1039 517h1v2h-1zM1036 518h8v1h-10zM1051 517h1v2h-1zM1048 518h8v1h-10zM1060 517h7v1h-7zM1061 518h1v1h-1zM1067 518h1v1h-1zM1072 517h9v1h-9zM1074 518h1v1h-1zM1079 518h1v1h-1zM1084 517h8v1h-8zM1085 518h1v1h-1zM1090 518h1v1h-1zM1096 517h10v1h-10zM1099 518h1v1h-1zM1101 518h1v1h-1zM1113 517h1v2h-1zM1108 518h8v1h-10zM1120 517h10v1h-10zM1123 518h1v1h-1zM1126 518h1v1h-1zM1132 517h9v1h-9zM1133 518h1v1h-1zM1140 518h1v1h-1zM1147 517h1v2h-1zM1144 518h10v1h-10zM1156 517h4v1h-4zM1161 517h5v1h-5zM1157 518h1v1h-1zM1163 518h1v1h-1zM1180 517h8v1h-8zM1183 518h1v1h-1zM1188 518h1v1h-1zM1192 517h8v1h-8zM1193 518h1v1h-1zM1197 518h1v1h-1z" fill="#20204c"/>
</g>
</svg></body></html>
